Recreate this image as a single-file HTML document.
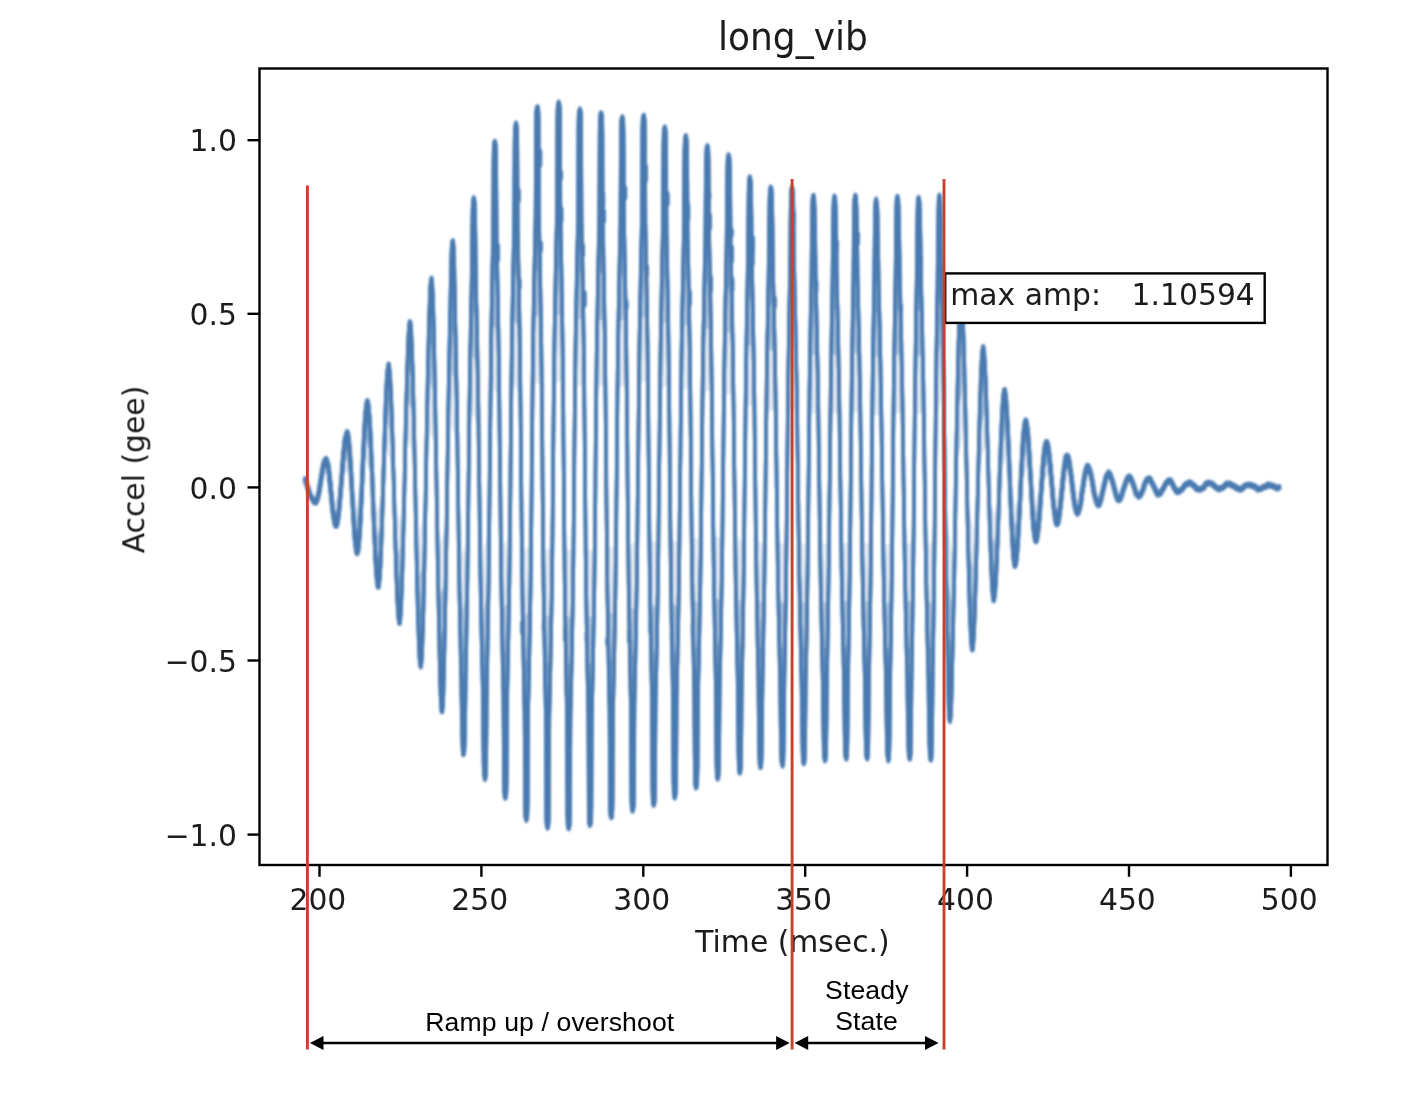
<!DOCTYPE html>
<html><head><meta charset="utf-8"><title>long_vib</title>
<style>
html,body{margin:0;padding:0;background:#fff;}
svg{display:block;}
text{font-family:"DejaVu Sans","Liberation Sans",sans-serif;fill:#1a1a1a;}
.h{font-family:"Liberation Sans","DejaVu Sans",sans-serif;fill:#000;}
</style></head><body>
<svg width="1410" height="1100" viewBox="0 0 1410 1100">
<rect width="1410" height="1100" fill="#fff"/>
<defs><filter id="bw" x="0" y="0" width="1410" height="1100" filterUnits="userSpaceOnUse"><feOffset in="SourceGraphic" dy="-0.7" result="a"/><feOffset in="SourceGraphic" dy="0.7" result="b"/><feMerge result="m"><feMergeNode in="a"/><feMergeNode in="b"/><feMergeNode in="SourceGraphic"/></feMerge><feGaussianBlur in="m" stdDeviation="0.8"/></filter><filter id="bl" x="0" y="0" width="1410" height="1100" filterUnits="userSpaceOnUse"><feGaussianBlur stdDeviation="0.8"/></filter><filter id="bt" x="0" y="0" width="1410" height="1100" filterUnits="userSpaceOnUse"><feGaussianBlur stdDeviation="0.55"/></filter></defs>
<g filter="url(#bw)" fill="none" stroke="#4a7ab0" stroke-linejoin="round" stroke-linecap="round">
<path d="M388.6 365.1 L388.7 365.1 L388.9 364.7 L389.1 366.5 L389.1 367.2 L389.5 369.3 L389.5 369.5 L389.9 374.2 L390.0 374.9 L390.4 382.4 L390.9 391.7 L391.3 402.9 L391.8 415.6 L392.2 429.6 L392.7 444.7 L393.1 460.7 L393.6 477.2 L394.1 494.0 L394.5 510.9 L395.0 527.4 L395.4 543.4 L395.9 558.5 L396.3 572.5 L396.8 585.2 L397.2 596.4 L397.7 605.7 L398.1 613.2 L398.2 613.9 L398.6 618.6 L398.6 619.6 L399.0 621.1 L399.0 622.2 L399.2 622.8 L399.4 623.1 L399.5 623.0 L399.6 622.8 L399.8 623.1 L399.9 622.8 L400.0 621.1 L400.3 618.9 L400.3 618.3 L400.7 613.9 L400.8 612.4 L401.1 607.0 L401.4 598.2 L401.8 587.8 L402.2 575.8 L402.6 562.4 L403.0 547.7 L403.4 532.1 L403.8 515.6 L404.2 498.6 L404.6 481.2 L404.9 463.7 L405.3 446.3 L405.7 429.3 L406.1 412.8 L406.5 397.2 L406.9 382.5 L407.3 369.1 L407.7 357.1 L408.1 346.7 L408.4 337.9 L408.7 332.5 L408.8 331.0 L409.2 326.6 L409.2 326.0 L409.5 324.0 L409.6 322.1 L409.7 322.7 L409.9 322.2 L410.0 321.9 L410.1 322.9 L410.3 323.0 L410.4 322.5 L410.5 323.8 L410.7 325.7 L410.9 327.3 L411.1 330.3 L411.3 334.0 L411.4 336.8 L411.8 345.0 L412.1 354.8 L412.5 366.2 L412.9 378.9 L413.2 393.0 L413.6 408.1 L413.9 424.2 L414.3 441.0 L414.6 458.5 L415.0 476.3 L415.4 494.3 L415.7 512.3 L416.1 530.1 L416.4 547.6 L416.8 564.4 L417.1 580.5 L417.5 595.6 L417.8 609.7 L418.2 622.4 L418.6 633.8 L418.9 643.6 L419.3 651.8 L419.4 654.6 L419.6 658.3 L419.8 661.3 L420.0 662.9 L420.2 664.9 L420.3 664.9 L420.4 666.1 L420.6 666.0 L420.7 666.7 L420.8 665.9 L421.0 665.3 L421.0 666.3 L421.2 664.3 L421.3 663.2 L421.6 660.6 L421.7 658.8 L422.0 653.1 L422.0 652.8 L422.3 645.2 L422.6 635.9 L423.0 625.2 L423.3 613.1 L423.6 599.8 L423.9 585.3 L424.3 569.8 L424.6 553.4 L424.9 536.3 L425.2 518.6 L425.6 500.4 L425.9 482.1 L426.2 463.6 L426.5 445.3 L426.9 427.2 L427.2 409.5 L427.5 392.7 L427.8 376.7 L428.2 361.4 L428.5 347.2 L428.8 333.8 L429.1 321.3 L429.5 310.3 L429.8 300.7 L430.1 292.8 L430.1 292.6 L430.4 286.7 L430.5 284.9 L430.8 282.3 L430.9 280.6 L431.1 279.4 L431.1 279.4 L431.3 279.8 L431.4 279.0 L431.5 278.4 L431.7 279.6 L431.7 279.9 L431.9 282.2 L432.0 282.1 L432.2 285.6 L432.3 286.2 L432.6 291.9 L432.7 294.1 L432.9 299.3 L433.2 308.3 L433.5 318.8 L433.8 330.7 L434.0 343.9 L434.3 357.6 L434.6 372.3 L434.9 388.0 L435.2 404.4 L435.5 421.4 L435.8 439.3 L436.1 457.7 L436.4 476.4 L436.7 495.2 L437.0 514.1 L437.3 532.8 L437.6 550.9 L437.9 568.6 L438.2 584.4 L438.5 599.5 L438.8 614.0 L439.1 627.9 L439.4 640.7 L439.6 654.4 L439.9 668.2 L440.2 680.4 L440.5 690.7 L440.7 696.6 L440.8 699.1 L441.1 705.1 L441.2 705.6 L441.4 709.1 L441.5 710.1 L441.7 711.5 L441.7 710.5 L441.9 711.2 L442.0 711.5 L442.1 711.1 L442.3 711.6 L442.3 711.7 L442.5 708.7 L442.5 709.2 L442.8 705.7 L442.9 705.1 L443.1 700.3 L443.3 695.3 L443.4 692.7 L443.6 683.1 L443.9 671.8 L444.2 658.9 L444.5 644.4 L444.7 631.4 L445.0 618.4 L445.3 604.3 L445.6 589.7 L445.8 574.5 L446.1 559.0 L446.4 541.4 L446.7 523.4 L446.9 504.7 L447.2 485.8 L447.5 466.9 L447.8 448.0 L448.0 429.3 L448.3 411.6 L448.6 394.2 L448.9 379.9 L449.1 365.9 L449.4 352.1 L449.7 338.8 L450.0 326.6 L450.2 314.9 L450.5 299.6 L450.8 284.4 L451.1 271.1 L451.3 260.0 L451.4 257.0 L451.6 251.6 L451.8 246.7 L451.9 246.1 L452.2 243.1 L452.2 242.5 L452.4 241.3 L452.4 241.3 L452.6 241.3 L452.7 241.2 L452.8 241.5 L453.0 241.4 L453.0 240.9 L453.2 242.9 L453.2 243.2 L453.5 245.5 L453.6 247.2 L453.7 250.7 L454.0 258.1 L454.0 258.4 L454.3 268.4 L454.5 280.8 L454.8 295.2 L455.0 311.4 L455.3 325.2 L455.6 337.1 L455.8 349.8 L456.1 363.3 L456.3 377.2 L456.6 391.4 L456.9 405.8 L457.1 423.0 L457.4 440.9 L457.6 459.5 L457.9 478.6 L458.1 497.7 L458.4 516.9 L458.7 536.0 L458.9 554.5 L459.2 572.1 L459.4 589.0 L459.7 602.3 L460.0 615.5 L460.2 628.5 L460.5 641.2 L460.7 653.5 L461.0 664.5 L461.3 675.3 L461.5 693.2 L461.8 710.8 L462.0 725.8 L462.3 737.7 L462.3 738.1 L462.6 745.9 L462.7 749.4 L462.8 751.1 L463.1 752.3 L463.1 752.8 L463.3 754.5 L463.3 754.1 L463.5 754.2 L463.6 754.3 L463.7 754.3 L463.8 754.1 L463.9 752.8 L464.0 753.5 L464.1 752.9 L464.3 751.3 L464.4 749.0 L464.5 746.9 L464.7 740.4 L464.8 736.3 L464.9 729.2 L465.2 715.1 L465.4 698.6 L465.6 679.9 L465.8 664.9 L466.1 653.9 L466.3 642.6 L466.5 630.0 L466.7 617.1 L467.0 604.0 L467.2 590.7 L467.4 577.2 L467.6 560.7 L467.9 543.0 L468.1 524.7 L468.3 505.5 L468.5 486.1 L468.8 466.8 L469.0 447.5 L469.2 428.2 L469.4 410.0 L469.7 392.5 L469.9 376.2 L470.1 363.6 L470.3 351.0 L470.6 338.5 L470.8 326.3 L471.0 314.2 L471.2 303.1 L471.5 292.7 L471.7 282.4 L471.9 260.7 L472.1 240.9 L472.4 224.3 L472.5 216.0 L472.6 211.7 L472.8 205.0 L472.9 202.8 L473.0 201.3 L473.2 201.0 L473.3 200.5 L473.4 199.0 L473.5 199.0 L473.6 198.1 L473.7 198.6 L473.8 199.0 L473.9 198.3 L474.0 198.5 L474.2 199.4 L474.3 199.8 L474.4 201.0 L474.6 203.0 L474.7 204.3 L474.9 210.6 L475.1 216.7 L475.1 221.5 L475.4 237.2 L475.6 256.1 L475.9 277.5 L476.1 292.2 L476.3 302.6 L476.6 313.1 L476.8 324.9 L477.1 337.1 L477.3 349.4 L477.5 361.9 L477.8 374.5 L478.0 387.2 L478.3 404.6 L478.5 422.1 L478.7 440.5 L479.0 459.7 L479.2 479.0 L479.5 498.4 L479.7 517.7 L480.0 536.9 L480.2 555.2 L480.4 572.4 L480.7 589.6 L480.9 601.6 L481.2 613.4 L481.4 625.1 L481.6 636.8 L481.9 648.2 L482.1 659.6 L482.4 669.9 L482.6 679.6 L482.8 689.3 L483.1 711.7 L483.3 735.9 L483.6 755.9 L483.6 761.9 L483.8 768.0 L484.0 774.6 L484.1 774.7 L484.3 775.5 L484.4 776.6 L484.5 776.9 L484.7 777.9 L484.8 777.4 L484.9 779.3 L485.0 778.8 L485.1 778.8 L485.2 777.6 L485.2 777.7 L485.4 777.4 L485.5 776.8 L485.6 775.8 L485.8 775.9 L485.8 775.1 L486.0 770.0 L486.2 762.1 L486.2 760.3 L486.3 744.4 L486.5 722.3 L486.7 696.6 L486.9 678.2 L487.1 668.4 L487.3 658.6 L487.5 648.2 L487.7 636.7 L487.9 625.1 L488.1 613.4 L488.3 601.5 L488.5 589.6 L488.7 577.7 L488.8 563.0 L489.0 545.6 L489.2 528.1 L489.4 509.2 L489.6 489.7 L489.8 470.1 L490.0 450.6 L490.2 431.1 L490.4 411.6 L490.6 392.6 L490.8 375.4 L491.0 358.3 L491.1 343.8 L491.3 332.5 L491.5 321.3 L491.7 310.1 L491.9 298.9 L492.1 287.9 L492.3 277.0 L492.5 266.5 L492.7 257.2 L492.9 247.9 L493.1 238.7 L493.3 208.8 L493.5 179.3 L493.6 158.3 L493.6 157.0 L493.8 149.1 L494.0 145.2 L494.0 146.0 L494.2 143.9 L494.3 143.4 L494.4 142.3 L494.6 141.9 L494.6 142.1 L494.7 141.7 L494.8 141.9 L494.9 142.7 L495.0 141.8 L495.1 141.7 L495.2 143.8 L495.3 143.6 L495.4 143.3 L495.6 145.2 L495.6 145.3 L495.8 148.6 L496.0 156.5 L496.1 158.8 L496.2 176.7 L496.4 205.8 L496.6 239.1 L496.8 249.3 L497.0 258.6 L497.2 268.0 L497.4 278.2 L497.6 289.2 L497.8 300.4 L498.0 311.6 L498.2 322.9 L498.4 334.2 L498.6 345.6 L498.8 358.0 L499.0 375.3 L499.2 392.6 L499.4 410.8 L499.6 430.5 L499.8 450.2 L500.1 469.9 L500.3 489.6 L500.5 509.3 L500.7 529.0 L500.9 547.1 L501.1 564.3 L501.3 581.5 L501.5 593.7 L501.7 604.8 L501.9 615.8 L502.1 626.9 L502.3 637.8 L502.5 648.6 L502.7 659.5 L502.9 669.7 L503.1 678.8 L503.3 687.9 L503.5 697.0 L503.7 727.2 L503.9 761.5 L504.0 781.9 L504.1 784.0 L504.3 792.1 L504.5 794.6 L504.5 794.0 L504.7 796.0 L504.8 797.2 L504.9 797.5 L505.0 797.6 L505.1 797.0 L505.2 797.4 L505.3 797.9 L505.4 797.0 L505.5 797.9 L505.6 797.3 L505.7 797.3 L505.8 796.0 L505.9 795.5 L506.1 795.5 L506.2 795.4 L506.3 793.4 L506.5 785.5 L506.6 781.5 L506.7 768.5 L506.9 736.3 L507.1 699.1 L507.3 688.4 L507.5 679.4 L507.7 670.4 L507.9 661.0 L508.1 650.3 L508.3 639.6 L508.5 628.9 L508.7 618.0 L508.9 607.1 L509.1 596.2 L509.3 585.2 L509.5 571.7 L509.7 554.7 L509.9 537.6 L510.1 519.5 L510.3 500.0 L510.5 480.5 L510.6 461.0 L510.8 441.4 L511.0 421.9 L511.2 402.5 L511.4 384.3 L511.6 367.4 L511.8 350.5 L512.0 337.1 L512.2 326.5 L512.4 315.8 L512.6 305.2 L512.8 294.6 L513.0 284.1 L513.2 273.7 L513.4 263.3 L513.6 253.8 L513.8 245.1 L514.0 236.3 L514.2 227.6 L514.4 193.7 L514.6 154.0 L514.7 139.7 L514.8 135.5 L515.0 127.9 L515.1 127.8 L515.2 127.4 L515.4 126.4 L515.5 125.9 L515.6 124.5 L515.7 124.7 L515.8 124.2 L515.9 123.4 L516.0 124.0 L516.1 123.4 L516.2 124.1 L516.3 124.3 L516.4 125.4 L516.5 126.4 L516.6 125.7 L516.7 127.7 L516.8 128.2 L516.9 128.0 L517.1 134.9 L517.2 140.2 L517.3 150.4 L517.5 189.6 L517.7 229.5 L517.9 238.3 L518.1 247.2 L518.2 256.0 L518.4 265.3 L518.6 275.8 L518.8 286.4 L519.0 297.0 L519.2 307.7 L519.4 318.5 L519.6 329.2 L519.7 340.0 L519.9 351.2 L520.1 368.3 L520.3 385.5 L520.5 402.7 L520.7 422.4 L520.9 442.2 L521.1 462.0 L521.2 481.7 L521.4 501.5 L521.6 521.3 L521.8 541.0 L522.0 558.1 L522.2 575.2 L522.4 592.2 L522.6 603.2 L522.7 613.7 L522.9 624.2 L523.1 634.6 L523.3 645.1 L523.5 655.5 L523.7 665.8 L523.9 676.1 L524.1 685.4 L524.2 694.1 L524.4 702.7 L524.6 711.3 L524.8 743.6 L525.0 793.8 L525.1 804.3 L525.2 809.8 L525.4 815.9 L525.5 817.4 L525.6 816.7 L525.7 817.5 L525.8 817.8 L525.9 818.1 L526.0 818.5 L526.1 819.4 L526.2 820.1 L526.3 819.7 L526.4 820.0 L526.5 819.2 L526.6 819.3 L526.7 819.2 L526.9 817.5 L526.9 818.3 L527.1 817.7 L527.2 817.0 L527.3 815.9 L527.5 810.6 L527.6 803.9 L527.7 799.0 L527.9 749.4 L528.1 710.1 L528.3 701.4 L528.5 692.7 L528.7 684.1 L528.9 675.0 L529.1 664.7 L529.3 654.3 L529.5 643.9 L529.7 633.4 L529.9 622.8 L530.1 612.3 L530.3 601.8 L530.5 591.2 L530.7 576.0 L530.9 558.9 L531.1 541.8 L531.3 523.0 L531.5 503.1 L531.7 483.2 L531.8 463.4 L532.0 443.5 L532.2 423.6 L532.4 403.7 L532.6 385.0 L532.8 367.9 L533.0 350.8 L533.2 335.7 L533.4 325.3 L533.6 314.9 L533.8 304.6 L534.0 294.2 L534.2 283.9 L534.4 273.6 L534.6 263.4 L534.8 253.2 L535.0 244.1 L535.2 235.5 L535.4 227.0 L535.6 218.5 L535.8 185.6 L536.0 125.7 L536.1 122.3 L536.2 115.4 L536.4 110.7 L536.5 110.6 L536.6 109.6 L536.8 108.1 L536.8 109.0 L537.0 107.7 L537.1 108.3 L537.2 108.4 L537.3 107.1 L537.4 107.0 L537.5 107.1 L537.6 108.3 L537.7 108.1 L537.8 107.4 L537.9 107.8 L537.9 108.0 L538.1 110.4 L538.2 110.7 L538.3 110.6 L538.5 114.4 L538.6 122.4 L538.6 124.0 L538.8 177.8 L539.0 218.3 L539.2 226.8 L539.3 235.2 L539.5 243.7 L539.7 252.4 L539.9 262.5 L540.1 272.7 L540.2 282.8 L540.4 293.1 L540.6 303.4 L540.8 313.7 L540.9 324.0 L541.1 334.3 L541.3 346.8 L541.5 363.7 L541.7 380.7 L541.8 398.0 L542.0 417.8 L542.2 437.5 L542.4 457.3 L542.5 477.0 L542.7 496.8 L542.9 516.5 L543.1 536.3 L543.2 553.6 L543.4 570.5 L543.6 587.4 L543.8 600.0 L544.0 610.2 L544.1 620.5 L544.3 630.7 L544.5 640.9 L544.7 651.1 L544.8 661.3 L545.0 671.4 L545.2 681.5 L545.4 690.2 L545.6 698.6 L545.7 707.0 L545.9 715.5 L546.1 754.0 L546.3 810.5 L546.3 812.0 L546.4 820.1 L546.6 823.7 L546.7 823.5 L546.8 825.3 L547.0 826.6 L547.0 826.1 L547.1 826.0 L547.2 826.7 L547.3 826.1 L547.4 826.1 L547.5 827.3 L547.6 827.9 L547.7 827.1 L547.8 826.6 L547.9 827.1 L548.1 825.7 L548.1 826.4 L548.3 825.3 L548.4 823.6 L548.5 823.7 L548.7 820.1 L548.9 811.9 L548.9 810.4 L549.1 753.6 L549.3 714.8 L549.5 706.3 L549.7 697.8 L549.9 689.4 L550.1 680.6 L550.3 670.4 L550.5 660.2 L550.7 650.1 L550.9 639.8 L551.1 629.5 L551.3 619.2 L551.5 608.9 L551.7 598.6 L551.9 586.0 L552.1 569.0 L552.3 551.9 L552.5 534.5 L552.7 514.6 L552.9 494.7 L553.1 474.9 L553.2 455.0 L553.4 435.2 L553.6 415.3 L553.8 395.4 L554.0 378.0 L554.2 360.9 L554.4 343.9 L554.6 331.3 L554.8 321.0 L555.0 310.7 L555.2 300.4 L555.4 290.1 L555.6 279.8 L555.8 269.7 L556.0 259.5 L556.2 249.3 L556.4 240.5 L556.6 232.1 L556.8 223.6 L557.0 215.1 L557.2 176.3 L557.4 119.5 L557.4 118.0 L557.6 109.8 L557.8 106.2 L557.9 105.3 L558.0 104.8 L558.2 103.7 L558.2 104.2 L558.4 103.2 L558.5 103.2 L558.6 102.4 L558.7 103.6 L558.8 102.6 L558.9 102.6 L559.0 103.0 L559.0 103.5 L559.1 104.3 L559.3 103.9 L559.3 105.0 L559.5 105.2 L559.6 105.9 L559.7 106.2 L559.8 109.9 L560.0 118.0 L560.0 119.5 L560.2 176.5 L560.3 215.3 L560.5 223.8 L560.7 232.3 L560.9 240.8 L561.0 249.5 L561.2 259.7 L561.4 269.9 L561.6 280.1 L561.7 290.4 L561.9 300.7 L562.1 311.0 L562.2 321.3 L562.4 331.7 L562.6 344.3 L562.8 361.3 L562.9 378.4 L563.1 395.9 L563.3 415.8 L563.4 435.7 L563.6 455.6 L563.8 475.4 L564.0 495.3 L564.1 515.2 L564.3 535.1 L564.5 552.6 L564.6 569.7 L564.8 586.7 L565.0 599.3 L565.2 609.7 L565.3 620.0 L565.5 630.3 L565.7 640.6 L565.8 650.9 L566.0 661.1 L566.2 671.3 L566.4 681.5 L566.5 690.2 L566.7 698.7 L566.9 707.2 L567.1 715.7 L567.2 754.5 L567.4 811.5 L567.4 813.0 L567.6 821.1 L567.7 824.8 L567.8 825.2 L567.9 824.9 L568.1 826.7 L568.1 826.4 L568.3 826.5 L568.4 828.2 L568.4 827.3 L568.5 828.1 L568.6 828.4 L568.7 828.5 L568.8 828.0 L568.9 827.4 L569.0 827.4 L569.2 827.1 L569.2 827.3 L569.4 825.1 L569.5 825.3 L569.6 824.8 L569.8 821.2 L570.0 813.2 L570.0 811.6 L570.2 755.2 L570.4 716.7 L570.6 708.3 L570.8 699.9 L571.0 691.5 L571.2 682.8 L571.4 672.7 L571.6 662.6 L571.8 652.5 L572.0 642.3 L572.2 632.1 L572.4 621.9 L572.6 611.6 L572.8 601.4 L573.0 588.9 L573.2 572.0 L573.4 555.1 L573.6 537.8 L573.8 518.1 L574.0 498.4 L574.2 478.7 L574.3 458.9 L574.5 439.2 L574.7 419.5 L574.9 399.8 L575.1 382.5 L575.3 365.6 L575.5 348.6 L575.7 336.1 L575.9 325.9 L576.1 315.6 L576.3 305.3 L576.5 295.1 L576.7 284.9 L576.9 274.7 L577.1 264.6 L577.3 254.5 L577.5 245.8 L577.7 237.4 L577.9 228.9 L578.1 220.5 L578.3 180.6 L578.5 126.1 L578.5 124.6 L578.7 116.6 L578.9 112.8 L579.0 111.9 L579.1 111.4 L579.3 111.3 L579.3 110.7 L579.5 110.3 L579.6 110.4 L579.7 110.4 L579.8 109.4 L579.9 109.2 L580.0 109.7 L580.1 109.7 L580.2 109.9 L580.3 110.6 L580.4 110.6 L580.4 110.9 L580.6 111.8 L580.7 113.2 L580.8 112.8 L581.0 116.5 L581.1 124.5 L581.1 126.0 L581.3 180.3 L581.5 220.0 L581.7 228.4 L581.8 236.8 L582.0 245.2 L582.2 253.8 L582.4 263.9 L582.6 274.0 L582.7 284.1 L582.9 294.2 L583.1 304.4 L583.3 314.7 L583.4 324.9 L583.6 335.1 L583.8 347.5 L584.0 364.4 L584.2 381.2 L584.3 398.5 L584.5 418.1 L584.7 437.7 L584.9 457.3 L585.0 477.0 L585.2 496.6 L585.4 516.2 L585.6 535.8 L585.7 553.1 L585.9 570.0 L586.1 586.8 L586.3 599.3 L586.5 609.5 L586.6 619.8 L586.8 630.1 L587.0 640.3 L587.2 650.5 L587.3 660.7 L587.5 670.8 L587.7 680.9 L587.9 689.5 L588.1 698.0 L588.2 706.4 L588.4 714.9 L588.6 756.4 L588.8 808.1 L588.8 809.6 L588.9 817.5 L589.1 821.5 L589.2 822.3 L589.3 823.2 L589.5 824.3 L589.5 823.2 L589.6 824.2 L589.7 825.2 L589.8 825.2 L589.9 824.2 L590.0 825.1 L590.1 824.1 L590.2 824.5 L590.3 823.6 L590.4 823.6 L590.6 822.9 L590.6 823.8 L590.8 822.9 L590.9 822.6 L591.0 821.4 L591.2 816.6 L591.3 809.7 L591.4 805.9 L591.6 748.5 L591.8 714.1 L592.0 705.6 L592.2 697.0 L592.4 688.5 L592.6 679.4 L592.8 669.1 L593.0 658.9 L593.2 648.6 L593.4 638.3 L593.6 627.9 L593.8 617.5 L594.0 607.1 L594.2 596.7 L594.4 581.5 L594.6 564.5 L594.8 547.4 L595.0 528.7 L595.2 508.8 L595.4 489.0 L595.5 469.1 L595.7 449.2 L595.9 429.4 L596.1 409.5 L596.3 390.8 L596.5 373.7 L596.7 356.6 L596.9 341.4 L597.1 331.0 L597.3 320.5 L597.5 310.0 L597.7 299.5 L597.9 289.1 L598.1 278.8 L598.3 268.4 L598.5 258.1 L598.7 249.1 L598.9 240.5 L599.1 231.8 L599.3 223.2 L599.5 185.7 L599.7 133.3 L599.8 128.7 L599.9 122.0 L600.1 116.9 L600.2 115.7 L600.3 116.2 L600.5 115.1 L600.5 113.9 L600.7 114.8 L600.8 114.7 L600.9 113.1 L601.0 114.2 L601.1 113.1 L601.2 113.2 L601.3 113.6 L601.4 114.7 L601.5 114.7 L601.6 113.9 L601.6 114.6 L601.8 115.8 L601.9 116.0 L602.0 116.8 L602.2 121.9 L602.3 128.6 L602.4 133.0 L602.5 185.0 L602.7 222.1 L602.9 230.6 L603.1 239.1 L603.3 247.6 L603.4 256.6 L603.6 266.8 L603.8 277.0 L604.0 287.2 L604.2 297.5 L604.3 307.9 L604.5 318.3 L604.7 328.6 L604.9 339.0 L605.1 354.0 L605.2 370.9 L605.4 387.8 L605.6 406.3 L605.8 426.0 L606.0 445.6 L606.2 465.3 L606.3 485.0 L606.5 504.6 L606.7 524.3 L606.9 542.8 L607.1 559.8 L607.2 576.7 L607.4 591.7 L607.6 602.2 L607.8 612.6 L608.0 623.1 L608.1 633.5 L608.3 643.9 L608.5 654.2 L608.7 664.5 L608.9 674.8 L609.0 683.7 L609.2 692.3 L609.4 700.9 L609.6 709.4 L609.8 749.2 L609.9 796.7 L610.0 801.8 L610.1 808.4 L610.3 813.7 L610.4 813.7 L610.5 814.5 L610.7 816.2 L610.7 815.2 L610.8 816.6 L610.9 816.7 L611.0 816.1 L611.1 816.9 L611.2 817.5 L611.3 817.4 L611.4 817.0 L611.5 816.0 L611.6 817.4 L611.8 816.6 L611.8 816.7 L612.0 814.1 L612.1 813.9 L612.2 813.8 L612.4 808.4 L612.5 801.9 L612.6 796.9 L612.8 749.6 L613.0 710.1 L613.2 701.6 L613.4 693.1 L613.6 684.5 L613.8 675.6 L614.0 665.4 L614.2 655.2 L614.4 645.0 L614.6 634.6 L614.8 624.3 L615.0 613.9 L615.2 603.5 L615.4 593.1 L615.6 578.2 L615.8 561.4 L616.0 544.5 L616.2 526.1 L616.4 506.6 L616.6 487.0 L616.8 467.5 L616.9 448.0 L617.1 428.4 L617.3 408.9 L617.5 390.5 L617.7 373.6 L617.9 356.7 L618.1 341.8 L618.3 331.3 L618.5 320.9 L618.7 310.4 L618.9 299.9 L619.1 289.5 L619.3 279.2 L619.5 268.9 L619.7 258.6 L619.9 249.8 L620.1 241.2 L620.3 232.6 L620.5 224.0 L620.7 182.5 L620.9 138.7 L621.0 133.3 L621.1 126.9 L621.3 121.3 L621.4 119.9 L621.5 120.7 L621.7 118.8 L621.7 118.3 L621.9 118.4 L622.0 119.0 L622.1 118.6 L622.2 117.3 L622.3 117.5 L622.4 117.1 L622.5 118.8 L622.6 118.3 L622.7 118.9 L622.8 118.2 L622.9 118.4 L623.0 120.6 L623.1 120.6 L623.2 121.3 L623.4 127.8 L623.5 133.2 L623.6 143.5 L623.8 188.6 L624.0 224.3 L624.2 233.0 L624.4 241.7 L624.5 250.4 L624.7 259.6 L624.9 270.0 L625.1 280.4 L625.3 290.8 L625.5 301.3 L625.7 311.8 L625.9 322.4 L626.0 333.0 L626.2 344.0 L626.4 361.0 L626.6 378.0 L626.8 395.1 L627.0 414.8 L627.2 434.5 L627.4 454.2 L627.5 473.8 L627.7 493.5 L627.9 513.2 L628.1 532.9 L628.3 550.0 L628.5 567.0 L628.7 584.0 L628.9 595.1 L629.0 605.7 L629.2 616.3 L629.4 626.9 L629.6 637.4 L629.8 647.9 L630.0 658.3 L630.2 668.7 L630.4 677.9 L630.5 686.6 L630.7 695.4 L630.9 704.1 L631.1 740.8 L631.3 784.4 L631.4 794.7 L631.5 800.1 L631.7 806.6 L631.8 806.5 L631.9 808.5 L632.0 809.0 L632.1 809.6 L632.2 808.7 L632.3 810.4 L632.4 809.2 L632.5 810.9 L632.6 810.5 L632.7 810.1 L632.8 809.7 L632.9 809.9 L633.0 810.2 L633.2 808.6 L633.2 808.1 L633.4 807.7 L633.5 806.8 L633.6 806.6 L633.8 800.1 L633.9 794.7 L634.0 784.3 L634.2 740.6 L634.4 703.8 L634.6 695.1 L634.8 686.3 L635.0 677.6 L635.2 668.3 L635.4 657.9 L635.6 647.4 L635.8 637.0 L636.0 626.4 L636.2 615.8 L636.4 605.2 L636.6 594.6 L636.8 583.5 L637.0 566.4 L637.2 549.3 L637.4 532.2 L637.6 512.5 L637.8 492.7 L638.0 473.0 L638.3 453.2 L638.5 433.5 L638.7 413.7 L638.9 394.0 L639.1 376.9 L639.3 359.8 L639.5 342.7 L639.7 331.6 L639.9 320.9 L640.1 310.3 L640.3 299.7 L640.5 289.0 L640.7 278.6 L640.9 268.1 L641.1 257.7 L641.3 248.4 L641.5 239.6 L641.7 230.9 L641.9 222.1 L642.1 184.6 L642.3 141.9 L642.4 131.6 L642.5 126.2 L642.7 119.6 L642.8 118.2 L642.9 117.9 L643.1 116.7 L643.1 116.7 L643.3 116.4 L643.4 116.1 L643.5 116.7 L643.6 115.6 L643.7 115.7 L643.8 116.0 L643.9 115.6 L644.0 116.1 L644.1 115.9 L644.2 116.7 L644.2 116.6 L644.4 118.9 L644.5 119.0 L644.6 119.6 L644.8 126.1 L644.9 131.5 L645.0 141.7 L645.2 184.0 L645.3 221.3 L645.5 229.9 L645.7 238.6 L645.9 247.3 L646.1 256.5 L646.2 266.9 L646.4 277.2 L646.6 287.6 L646.8 298.2 L647.0 308.7 L647.2 319.3 L647.3 329.8 L647.5 340.8 L647.7 357.8 L647.9 374.7 L648.1 391.7 L648.2 411.3 L648.4 430.9 L648.6 450.5 L648.8 470.0 L649.0 489.6 L649.2 509.2 L649.3 528.8 L649.5 545.8 L649.7 562.8 L649.9 579.8 L650.1 590.9 L650.2 601.6 L650.4 612.3 L650.6 623.0 L650.8 633.6 L651.0 644.1 L651.2 654.6 L651.3 665.1 L651.5 674.2 L651.7 683.0 L651.9 691.8 L652.1 700.6 L652.2 740.5 L652.4 778.6 L652.5 788.7 L652.6 793.9 L652.8 800.9 L652.9 801.0 L653.0 801.9 L653.2 803.8 L653.2 802.6 L653.3 804.3 L653.5 804.0 L653.5 804.3 L653.6 805.1 L653.7 804.8 L653.8 804.3 L653.9 804.3 L654.0 804.4 L654.1 804.6 L654.3 803.0 L654.3 803.6 L654.5 802.3 L654.6 801.8 L654.7 800.8 L654.9 793.2 L655.0 789.0 L655.1 774.7 L655.3 735.6 L655.6 701.0 L655.8 692.2 L656.0 683.4 L656.2 674.6 L656.4 665.1 L656.6 654.6 L656.8 644.1 L657.0 633.5 L657.2 622.8 L657.4 612.1 L657.6 601.4 L657.8 590.7 L658.0 577.2 L658.2 560.2 L658.4 543.2 L658.6 525.0 L658.8 505.4 L659.0 485.9 L659.2 466.3 L659.5 446.6 L659.7 427.0 L659.9 407.5 L660.1 389.2 L660.3 372.2 L660.5 355.1 L660.7 341.6 L660.9 330.7 L661.1 319.9 L661.3 309.0 L661.5 298.2 L661.7 287.5 L661.9 276.9 L662.1 266.3 L662.3 256.8 L662.5 247.9 L662.7 239.0 L662.9 230.1 L663.2 192.7 L663.4 157.5 L663.5 143.9 L663.6 139.8 L663.8 131.8 L663.9 130.8 L664.0 130.4 L664.2 128.8 L664.2 128.6 L664.4 128.0 L664.5 128.8 L664.6 127.8 L664.7 127.4 L664.8 127.7 L664.9 127.2 L665.0 128.8 L665.0 129.1 L665.2 129.1 L665.3 128.8 L665.4 129.1 L665.5 130.3 L665.6 131.0 L665.7 132.4 L665.9 140.6 L666.0 143.7 L666.1 161.4 L666.3 197.8 L666.5 230.4 L666.7 239.4 L666.9 248.4 L667.0 257.4 L667.2 267.3 L667.4 278.0 L667.6 288.8 L667.8 299.6 L668.0 310.5 L668.2 321.4 L668.3 332.3 L668.5 343.3 L668.7 359.3 L668.9 376.5 L669.1 393.7 L669.3 413.2 L669.5 432.9 L669.7 452.7 L669.8 472.4 L670.0 492.2 L670.2 511.9 L670.4 531.4 L670.6 548.7 L670.8 565.9 L671.0 581.9 L671.2 593.0 L671.3 604.1 L671.5 615.1 L671.7 626.1 L671.9 637.1 L672.1 647.9 L672.3 658.7 L672.5 668.6 L672.6 677.7 L672.8 686.8 L673.0 695.9 L673.2 730.7 L673.4 764.3 L673.5 781.1 L673.6 784.2 L673.8 792.2 L673.9 794.1 L674.0 794.3 L674.1 794.8 L674.2 795.7 L674.3 795.9 L674.5 797.5 L674.5 797.7 L674.6 797.2 L674.7 797.4 L674.8 796.7 L674.9 797.7 L675.0 796.4 L675.1 796.1 L675.3 795.0 L675.3 795.3 L675.5 794.3 L675.6 794.1 L675.7 792.3 L676.0 784.4 L676.0 781.3 L676.2 764.7 L676.4 731.5 L676.6 697.2 L676.8 688.3 L677.0 679.3 L677.2 670.3 L677.4 660.5 L677.6 649.8 L677.8 639.1 L678.1 628.4 L678.3 617.5 L678.5 606.6 L678.7 595.7 L678.9 584.7 L679.1 568.9 L679.3 551.9 L679.5 534.8 L679.7 515.6 L679.9 496.2 L680.1 476.7 L680.4 457.1 L680.6 437.6 L680.8 418.2 L681.0 399.0 L681.2 381.8 L681.4 364.8 L681.6 348.9 L681.8 337.8 L682.0 326.8 L682.2 315.7 L682.4 304.7 L682.7 293.8 L682.9 283.0 L683.1 272.2 L683.3 262.5 L683.5 253.3 L683.7 244.2 L683.9 233.9 L684.1 198.9 L684.3 168.5 L684.5 152.8 L684.5 149.8 L684.8 142.0 L684.9 139.8 L685.0 139.5 L685.2 137.8 L685.2 138.0 L685.4 136.6 L685.5 136.7 L685.6 136.2 L685.7 136.5 L685.8 136.4 L685.9 135.8 L686.0 136.1 L686.1 136.7 L686.2 137.0 L686.3 138.1 L686.4 138.4 L686.6 140.0 L686.6 139.7 L686.8 142.6 L687.0 150.5 L687.0 152.6 L687.2 171.7 L687.4 203.0 L687.6 235.2 L687.8 244.3 L688.0 253.5 L688.2 262.6 L688.4 272.8 L688.6 283.6 L688.8 294.5 L689.0 305.5 L689.2 316.6 L689.4 327.7 L689.6 338.8 L689.8 351.0 L690.0 368.1 L690.2 385.3 L690.4 403.2 L690.6 422.8 L690.8 442.3 L691.0 461.9 L691.1 481.5 L691.3 501.0 L691.5 520.6 L691.7 538.6 L691.9 555.8 L692.1 573.0 L692.3 585.3 L692.5 596.6 L692.7 607.8 L692.9 619.0 L693.1 630.2 L693.3 641.2 L693.5 652.2 L693.7 662.3 L693.9 671.6 L694.1 680.9 L694.3 691.0 L694.5 724.1 L694.7 752.9 L694.9 770.6 L694.9 772.9 L695.1 780.7 L695.3 784.0 L695.3 784.5 L695.5 785.7 L695.6 786.5 L695.7 786.1 L695.8 786.4 L695.9 787.8 L696.0 786.5 L696.1 787.4 L696.2 787.6 L696.3 787.1 L696.4 785.9 L696.5 786.9 L696.7 786.5 L696.8 785.5 L697.0 784.6 L697.0 784.1 L697.2 780.1 L697.4 772.2 L697.5 770.8 L697.7 749.8 L697.9 720.1 L698.1 689.9 L698.3 680.6 L698.5 671.3 L698.8 661.9 L699.0 651.4 L699.2 640.4 L699.4 629.3 L699.6 618.0 L699.9 606.7 L700.1 595.4 L700.3 584.1 L700.5 569.5 L700.8 552.2 L701.0 534.9 L701.2 515.8 L701.4 496.2 L701.6 476.5 L701.9 456.8 L702.1 437.1 L702.3 417.5 L702.5 398.4 L702.7 381.0 L703.0 363.7 L703.2 349.1 L703.4 337.6 L703.6 326.1 L703.9 314.6 L704.1 303.3 L704.3 292.0 L704.5 280.9 L704.7 270.4 L705.0 260.9 L705.2 251.4 L705.4 241.7 L705.6 210.2 L705.8 182.6 L706.0 163.1 L706.1 161.4 L706.3 153.6 L706.5 149.3 L706.5 149.8 L706.7 147.4 L706.8 147.6 L707.0 147.0 L707.1 147.2 L707.2 147.0 L707.3 146.7 L707.4 145.9 L707.5 146.3 L707.6 147.1 L707.7 146.9 L707.8 147.4 L707.9 147.0 L708.0 147.2 L708.2 148.5 L708.2 149.3 L708.4 153.5 L708.6 161.2 L708.6 162.9 L708.8 182.1 L709.0 209.3 L709.2 240.4 L709.4 250.0 L709.6 259.3 L709.8 268.7 L710.0 279.0 L710.2 290.1 L710.4 301.1 L710.6 312.3 L710.8 323.6 L711.0 335.0 L711.2 346.3 L711.4 360.7 L711.6 377.8 L711.8 395.0 L712.0 413.8 L712.2 433.2 L712.4 452.6 L712.7 472.0 L712.9 491.4 L713.1 510.8 L713.3 529.6 L713.5 546.8 L713.7 564.0 L713.9 578.5 L714.1 590.0 L714.3 601.5 L714.5 612.9 L714.7 624.3 L714.9 635.5 L715.1 646.6 L715.3 656.9 L715.5 666.5 L715.7 675.9 L715.9 688.8 L716.1 717.9 L716.3 743.2 L716.5 761.2 L716.5 763.1 L716.7 770.7 L716.9 775.2 L716.9 775.1 L717.1 775.8 L717.2 777.7 L717.3 777.7 L717.4 778.3 L717.5 778.4 L717.6 778.8 L717.7 778.7 L717.8 778.5 L717.9 777.3 L718.0 778.6 L718.1 778.0 L718.2 777.1 L718.4 776.6 L718.6 775.3 L718.8 770.1 L719.0 761.5 L719.2 740.5 L719.4 714.4 L719.7 685.0 L719.9 675.6 L720.1 666.1 L720.3 656.5 L720.5 645.7 L720.8 634.5 L721.0 623.2 L721.2 611.8 L721.4 600.3 L721.6 588.7 L721.8 577.1 L722.1 560.4 L722.3 543.2 L722.5 525.4 L722.7 506.0 L722.9 486.5 L723.2 467.0 L723.4 447.5 L723.6 428.0 L723.8 408.6 L724.0 390.8 L724.2 373.5 L724.5 356.8 L724.7 345.0 L724.9 333.4 L725.1 321.7 L725.3 310.1 L725.5 298.7 L725.8 287.4 L726.0 276.7 L726.2 267.0 L726.4 257.4 L726.6 245.7 L726.9 217.4 L727.1 192.8 L727.3 172.9 L727.5 164.2 L727.7 158.8 L727.9 157.8 L728.1 156.2 L728.2 156.9 L728.3 155.5 L728.4 155.1 L728.5 155.1 L728.6 155.3 L728.7 155.9 L728.8 155.3 L728.9 156.4 L729.1 157.3 L729.2 156.9 L729.3 157.3 L729.5 158.7 L729.7 164.1 L730.0 172.7 L730.2 192.4 L730.4 216.9 L730.6 244.9 L730.9 256.4 L731.1 265.9 L731.3 275.5 L731.5 286.2 L731.8 297.4 L732.0 308.7 L732.2 320.2 L732.4 331.7 L732.7 343.3 L732.9 354.9 L733.1 371.4 L733.3 388.6 L733.6 406.2 L733.8 425.5 L734.0 444.8 L734.2 464.1 L734.5 483.4 L734.7 502.7 L734.9 522.0 L735.2 539.7 L735.4 556.9 L735.6 573.5 L735.8 585.4 L736.1 597.2 L736.3 609.0 L736.5 620.7 L736.7 632.2 L737.0 643.6 L737.2 654.2 L737.4 664.0 L737.6 673.8 L737.9 689.2 L738.1 714.7 L738.3 736.9 L738.5 754.9 L738.8 763.6 L739.0 769.3 L739.2 770.6 L739.3 771.5 L739.4 772.2 L739.6 772.4 L739.7 772.6 L739.8 771.9 L739.9 772.9 L740.0 772.1 L740.1 771.9 L740.1 772.7 L740.3 771.4 L740.4 771.4 L740.5 769.7 L740.7 768.7 L740.7 769.0 L740.9 762.5 L741.1 755.5 L741.1 751.6 L741.3 732.3 L741.5 708.9 L741.8 683.1 L742.0 673.4 L742.2 663.6 L742.4 653.7 L742.6 642.2 L742.8 630.7 L743.0 619.0 L743.2 607.2 L743.4 595.3 L743.6 583.4 L743.8 568.0 L744.0 550.7 L744.2 533.2 L744.4 513.9 L744.6 494.5 L744.8 475.1 L745.1 455.6 L745.3 436.2 L745.5 416.9 L745.7 399.3 L745.9 381.9 L746.1 366.4 L746.3 354.2 L746.5 342.1 L746.7 330.0 L746.9 318.1 L747.1 306.4 L747.3 294.9 L747.5 284.8 L747.7 274.8 L747.9 262.1 L748.1 237.7 L748.4 216.3 L748.6 198.7 L748.6 195.1 L748.8 188.0 L749.0 181.7 L749.0 180.8 L749.2 179.2 L749.3 179.2 L749.4 178.8 L749.6 178.2 L749.6 177.3 L749.7 177.4 L749.8 177.2 L749.9 177.3 L750.0 177.7 L750.1 177.2 L750.2 179.1 L750.3 178.3 L750.5 180.5 L750.7 180.8 L750.7 181.6 L750.9 187.9 L751.1 194.9 L751.1 198.5 L751.4 216.0 L751.6 237.1 L751.8 261.3 L752.0 273.8 L752.3 283.7 L752.5 293.7 L752.7 305.1 L752.9 316.7 L753.1 328.5 L753.4 340.4 L753.6 352.4 L753.8 364.5 L754.0 379.8 L754.3 397.0 L754.5 414.5 L754.7 433.6 L754.9 452.8 L755.1 472.0 L755.4 491.3 L755.6 510.5 L755.8 529.6 L756.0 547.1 L756.3 564.4 L756.5 579.7 L756.7 592.0 L756.9 604.2 L757.2 616.2 L757.4 628.1 L757.6 639.9 L757.8 651.3 L758.0 661.4 L758.3 671.4 L758.5 685.7 L758.7 708.7 L758.9 728.9 L759.2 745.5 L759.2 748.9 L759.4 755.9 L759.6 762.2 L759.6 763.0 L759.8 765.2 L760.0 764.3 L760.1 765.6 L760.2 766.8 L760.3 767.2 L760.4 766.6 L760.5 766.9 L760.6 766.3 L760.7 765.8 L760.8 767.1 L760.9 765.1 L761.0 765.4 L761.2 763.7 L761.3 763.1 L761.4 761.8 L761.6 755.4 L761.7 749.2 L761.8 744.0 L762.0 726.8 L762.2 706.1 L762.5 682.5 L762.7 671.0 L762.9 660.9 L763.1 650.7 L763.3 638.9 L763.5 627.1 L763.8 615.1 L764.0 602.9 L764.2 590.7 L764.4 578.3 L764.6 561.0 L764.8 543.7 L765.1 525.3 L765.3 506.1 L765.5 486.8 L765.7 467.5 L765.9 448.2 L766.1 429.0 L766.4 410.6 L766.6 393.2 L766.8 375.9 L767.0 363.5 L767.2 351.1 L767.4 338.8 L767.7 326.7 L767.9 314.8 L768.1 303.0 L768.3 292.7 L768.5 282.5 L768.7 269.7 L769.0 247.0 L769.2 227.0 L769.4 210.3 L769.5 205.2 L769.6 199.1 L769.8 192.7 L769.9 191.4 L770.0 190.0 L770.2 189.9 L770.3 188.0 L770.4 188.6 L770.5 187.9 L770.6 188.3 L770.7 187.4 L770.8 188.0 L771.0 187.4 L771.0 188.8 L771.2 188.6 L771.3 188.3 L771.5 189.1 L771.6 191.4 L771.7 192.7 L772.0 199.1 L772.1 205.2 L772.2 210.2 L772.5 226.9 L772.7 246.8 L773.0 269.5 L773.2 282.3 L773.5 292.4 L773.7 302.7 L774.0 314.5 L774.2 326.4 L774.5 338.5 L774.7 350.7 L775.0 363.0 L775.2 375.5 L775.5 392.7 L775.7 410.1 L776.0 428.4 L776.2 447.6 L776.5 466.8 L776.7 486.1 L777.0 505.3 L777.2 524.5 L777.5 542.8 L777.7 560.2 L778.0 577.4 L778.2 589.9 L778.5 602.2 L778.7 614.5 L779.0 626.6 L779.2 638.5 L779.5 650.3 L779.7 660.6 L780.0 670.8 L780.2 683.7 L780.5 706.3 L780.7 726.1 L781.0 742.7 L781.1 747.7 L781.2 753.8 L781.5 760.2 L781.6 761.5 L781.7 762.9 L781.9 763.7 L782.0 763.9 L782.2 764.2 L782.2 764.7 L782.4 765.0 L782.5 765.5 L782.6 765.9 L782.7 764.1 L782.7 765.3 L782.9 764.8 L783.0 763.1 L783.1 762.9 L783.3 761.5 L783.3 760.2 L783.5 753.8 L783.6 747.7 L783.7 742.7 L783.9 726.1 L784.1 706.3 L784.3 683.7 L784.5 670.8 L784.7 660.7 L784.9 650.4 L785.1 638.6 L785.3 626.7 L785.5 614.6 L785.7 602.4 L785.9 590.0 L786.1 577.6 L786.3 560.3 L786.5 543.0 L786.7 524.7 L786.9 505.5 L787.1 486.3 L787.3 467.0 L787.5 447.8 L787.7 428.6 L787.9 410.3 L788.1 393.0 L788.3 375.7 L788.5 363.2 L788.7 350.9 L788.9 338.6 L789.1 326.5 L789.3 314.5 L789.5 302.8 L789.7 292.5 L789.9 282.3 L790.1 269.1 L790.3 246.7 L790.5 227.0 L790.7 210.6 L790.8 205.6 L790.9 199.5 L791.1 193.2 L791.1 191.9 L791.3 190.4 L791.4 190.3 L791.5 189.5 L791.7 189.2 L791.7 188.0 L791.8 187.8 L791.9 187.8 L792.0 187.8 L792.2 189.2 L792.2 188.6 L792.4 188.8 L792.5 189.4 L792.7 190.0 L792.9 191.9 L792.9 193.1 L793.2 199.5 L793.3 205.6 L793.4 210.5 L793.7 226.9 L793.9 246.5 L794.2 268.8 L794.5 281.9 L794.7 292.1 L795.0 302.4 L795.2 314.0 L795.5 325.9 L795.7 338.0 L796.0 350.2 L796.2 362.6 L796.5 375.0 L796.8 392.2 L797.0 409.5 L797.3 427.7 L797.5 446.8 L797.8 466.0 L798.0 485.1 L798.3 504.3 L798.5 523.4 L798.8 541.6 L799.0 559.0 L799.3 576.2 L799.6 588.7 L799.8 601.1 L800.1 613.4 L800.3 625.6 L800.6 637.6 L800.8 649.3 L801.1 659.7 L801.3 669.9 L801.6 683.9 L801.9 705.6 L802.1 724.7 L802.4 740.6 L802.5 745.4 L802.6 751.5 L802.9 757.8 L802.9 759.0 L803.1 759.9 L803.3 760.8 L803.4 762.6 L803.6 762.3 L803.6 763.6 L803.8 762.7 L803.9 763.3 L804.0 762.7 L804.1 762.8 L804.1 762.1 L804.3 761.7 L804.4 762.4 L804.5 760.6 L804.7 759.1 L804.7 757.4 L804.9 750.9 L805.0 745.7 L805.1 739.0 L805.3 722.5 L805.5 702.9 L805.7 680.6 L805.9 669.0 L806.1 658.6 L806.4 648.0 L806.6 636.0 L806.8 623.9 L807.0 611.6 L807.2 599.1 L807.4 586.5 L807.6 572.1 L807.8 554.7 L808.0 537.2 L808.2 518.1 L808.4 498.8 L808.6 479.5 L808.8 460.2 L809.0 440.9 L809.2 421.8 L809.4 404.2 L809.6 386.8 L809.8 372.3 L810.0 359.7 L810.2 347.1 L810.4 334.7 L810.6 322.5 L810.8 310.4 L811.1 299.7 L811.3 289.3 L811.5 276.7 L811.7 255.0 L811.9 236.0 L812.1 219.9 L812.2 213.5 L812.3 208.3 L812.5 201.8 L812.5 200.1 L812.7 198.4 L812.8 198.1 L812.9 197.6 L813.1 196.6 L813.1 197.0 L813.2 196.7 L813.3 195.7 L813.4 196.0 L813.6 196.6 L813.6 195.5 L813.8 197.5 L813.9 197.4 L814.1 198.9 L814.2 200.1 L814.3 201.8 L814.6 208.2 L814.7 213.4 L814.8 219.8 L815.1 235.8 L815.4 254.7 L815.6 276.3 L815.9 288.8 L816.1 299.2 L816.4 309.8 L816.6 321.8 L816.9 334.0 L817.1 346.3 L817.4 358.8 L817.7 371.4 L817.9 385.9 L818.2 403.2 L818.4 420.7 L818.7 439.7 L818.9 458.9 L819.2 478.1 L819.5 497.3 L819.7 516.5 L820.0 535.5 L820.2 553.0 L820.5 570.4 L820.7 584.8 L821.0 597.4 L821.3 610.0 L821.5 622.4 L821.8 634.6 L822.0 646.6 L822.3 657.3 L822.5 667.7 L822.8 680.5 L823.0 701.9 L823.3 720.6 L823.6 736.4 L823.7 742.8 L823.8 747.9 L824.1 754.4 L824.2 756.1 L824.3 758.0 L824.5 758.4 L824.6 758.3 L824.8 760.6 L824.8 759.3 L825.0 760.3 L825.1 760.5 L825.2 760.0 L825.3 759.6 L825.3 760.3 L825.5 760.0 L825.6 758.3 L825.7 757.8 L825.8 756.1 L825.9 754.4 L826.1 748.0 L826.2 742.8 L826.3 736.5 L826.5 720.7 L826.7 702.0 L826.9 680.7 L827.1 667.9 L827.3 657.5 L827.5 646.8 L827.7 634.8 L827.9 622.7 L828.1 610.3 L828.3 597.8 L828.5 585.1 L828.7 570.7 L828.9 553.4 L829.1 536.0 L829.3 517.0 L829.5 497.8 L829.8 478.7 L830.0 459.5 L830.2 440.3 L830.4 421.3 L830.6 403.9 L830.8 386.5 L831.0 372.1 L831.2 359.5 L831.4 346.9 L831.6 334.5 L831.8 322.4 L832.0 310.3 L832.2 299.7 L832.4 289.3 L832.6 276.2 L832.8 255.1 L833.0 236.5 L833.2 220.8 L833.3 214.5 L833.4 209.4 L833.6 203.0 L833.7 201.3 L833.8 199.5 L833.9 198.8 L834.0 197.8 L834.2 197.5 L834.2 197.1 L834.3 196.4 L834.4 196.8 L834.5 196.4 L834.7 196.8 L834.7 198.2 L834.9 198.2 L835.0 198.0 L835.2 200.2 L835.4 201.2 L835.4 202.9 L835.7 209.3 L835.8 214.5 L836.0 220.8 L836.2 236.4 L836.5 254.9 L836.7 276.0 L837.0 289.0 L837.2 299.4 L837.5 310.0 L837.8 322.0 L838.0 334.2 L838.3 346.5 L838.5 359.0 L838.8 371.7 L839.1 386.0 L839.3 403.3 L839.6 420.7 L839.8 439.7 L840.1 458.8 L840.3 477.9 L840.6 497.0 L840.9 516.1 L841.1 535.1 L841.4 552.5 L841.6 569.8 L841.9 584.1 L842.2 596.8 L842.4 609.3 L842.7 621.6 L842.9 633.8 L843.2 645.8 L843.5 656.4 L843.7 666.8 L844.0 679.9 L844.2 700.9 L844.5 719.4 L844.7 735.0 L844.9 741.3 L845.0 746.5 L845.3 752.8 L845.3 754.6 L845.5 757.2 L845.7 757.2 L845.8 757.0 L846.0 757.8 L846.0 757.7 L846.2 758.5 L846.3 759.0 L846.4 758.1 L846.5 758.0 L846.5 757.9 L846.7 757.8 L846.7 757.9 L846.9 756.3 L847.0 754.5 L847.1 752.8 L847.3 746.4 L847.4 741.3 L847.5 735.0 L847.7 719.4 L847.8 700.8 L848.0 679.7 L848.2 666.6 L848.4 656.2 L848.6 645.6 L848.8 633.6 L849.0 621.4 L849.2 609.0 L849.4 596.4 L849.6 583.8 L849.8 569.4 L850.0 552.1 L850.2 534.6 L850.4 515.7 L850.6 496.5 L850.8 477.4 L850.9 458.2 L851.1 439.0 L851.3 420.1 L851.5 402.6 L851.7 385.3 L851.9 370.9 L852.1 358.3 L852.3 345.7 L852.5 333.3 L852.7 321.2 L852.9 309.2 L853.1 298.5 L853.3 288.1 L853.5 275.1 L853.7 254.0 L853.8 235.4 L854.0 219.7 L854.1 213.4 L854.2 208.3 L854.4 201.9 L854.5 200.1 L854.6 198.4 L854.8 197.9 L854.8 196.9 L855.0 196.2 L855.0 196.3 L855.1 195.7 L855.2 195.7 L855.3 195.6 L855.5 195.4 L855.5 195.9 L855.7 197.9 L855.8 196.8 L856.0 198.4 L856.2 200.1 L856.2 201.8 L856.5 208.3 L856.6 213.4 L856.8 219.7 L857.0 235.3 L857.3 253.9 L857.5 275.0 L857.8 288.0 L858.1 298.4 L858.3 309.1 L858.6 321.1 L858.9 333.2 L859.1 345.6 L859.4 358.1 L859.6 370.7 L859.9 385.1 L860.2 402.4 L860.4 419.9 L860.7 438.8 L860.9 457.9 L861.2 477.1 L861.5 496.3 L861.7 515.4 L862.0 534.3 L862.2 551.8 L862.5 569.1 L862.8 583.5 L863.0 596.2 L863.3 608.8 L863.5 621.2 L863.8 633.4 L864.1 645.4 L864.3 656.1 L864.6 666.5 L864.9 679.9 L865.1 700.8 L865.4 719.1 L865.6 734.5 L865.8 740.8 L865.9 745.9 L866.2 752.3 L866.2 754.0 L866.4 756.0 L866.6 757.4 L866.7 756.6 L866.9 757.4 L866.9 757.5 L867.1 758.1 L867.2 758.5 L867.3 758.2 L867.4 758.8 L867.4 758.5 L867.6 757.8 L867.6 755.9 L867.8 755.7 L867.9 754.0 L868.0 751.8 L868.2 745.2 L868.3 740.9 L868.4 732.8 L868.6 716.8 L868.8 697.7 L869.0 676.2 L869.2 664.9 L869.4 654.3 L869.6 643.1 L869.8 630.9 L870.0 618.5 L870.2 605.8 L870.4 593.0 L870.6 580.1 L870.8 563.7 L871.0 546.1 L871.2 527.8 L871.4 508.4 L871.6 489.0 L871.7 469.6 L871.9 450.2 L872.1 430.8 L872.3 412.5 L872.5 394.9 L872.7 378.5 L872.9 365.5 L873.1 352.7 L873.3 340.0 L873.5 327.6 L873.7 315.3 L873.9 304.1 L874.1 293.5 L874.3 282.0 L874.5 260.6 L874.7 241.7 L874.9 225.7 L875.0 217.7 L875.1 213.4 L875.3 206.8 L875.4 204.6 L875.5 202.9 L875.7 201.0 L875.7 201.9 L875.9 201.4 L875.9 200.6 L876.0 200.4 L876.1 200.1 L876.2 199.4 L876.4 200.5 L876.4 201.5 L876.6 202.1 L876.7 202.5 L876.9 203.8 L877.1 204.6 L877.2 206.8 L877.5 213.5 L877.6 217.8 L877.7 225.8 L878.0 241.8 L878.3 260.8 L878.6 282.2 L878.8 293.7 L879.1 304.4 L879.4 315.6 L879.7 327.9 L879.9 340.4 L880.2 353.1 L880.5 366.0 L880.7 378.9 L881.0 395.4 L881.3 413.1 L881.6 431.4 L881.8 450.8 L882.1 470.3 L882.4 489.8 L882.7 509.3 L882.9 528.7 L883.2 547.0 L883.5 564.7 L883.8 581.1 L884.0 594.0 L884.3 606.8 L884.6 619.5 L884.8 631.9 L885.1 644.2 L885.4 655.4 L885.7 666.1 L885.9 677.1 L886.2 698.9 L886.5 718.0 L886.8 734.3 L886.9 742.4 L887.0 746.7 L887.3 753.3 L887.4 755.5 L887.6 756.7 L887.8 757.5 L887.9 758.0 L888.1 759.4 L888.1 759.8 L888.3 760.6 L888.4 760.0 L888.5 760.2 L888.6 759.7 L888.6 759.8 L888.8 758.6 L888.8 758.3 L889.0 757.3 L889.1 755.5 L889.2 753.8 L889.4 747.4 L889.5 742.3 L889.6 736.0 L889.8 720.5 L889.9 702.0 L890.1 681.1 L890.3 667.8 L890.5 657.4 L890.7 646.7 L890.9 634.7 L891.1 622.5 L891.3 610.1 L891.5 597.5 L891.7 584.9 L891.9 570.4 L892.1 553.1 L892.3 535.7 L892.5 516.7 L892.7 497.6 L892.8 478.4 L893.0 459.2 L893.2 440.1 L893.4 421.1 L893.6 403.7 L893.8 386.4 L894.0 372.0 L894.2 359.3 L894.4 346.8 L894.6 334.4 L894.8 322.2 L895.0 310.2 L895.2 299.6 L895.4 289.2 L895.6 276.0 L895.8 255.0 L895.9 236.4 L896.1 220.8 L896.2 214.5 L896.3 209.4 L896.5 203.0 L896.6 201.3 L896.7 199.5 L896.9 197.7 L896.9 198.7 L897.1 197.0 L897.1 198.1 L897.2 197.3 L897.3 196.8 L897.4 196.6 L897.6 196.7 L897.6 197.0 L897.8 198.4 L897.9 198.9 L898.1 198.8 L898.3 201.2 L898.4 203.0 L898.7 209.4 L898.8 214.5 L898.9 220.8 L899.2 236.4 L899.5 254.9 L899.7 275.9 L900.0 289.0 L900.3 299.4 L900.6 310.0 L900.8 322.0 L901.1 334.2 L901.4 346.5 L901.6 359.0 L901.9 371.6 L902.2 386.0 L902.5 403.3 L902.7 420.7 L903.0 439.7 L903.3 458.8 L903.5 477.9 L903.8 497.0 L904.1 516.1 L904.4 535.1 L904.6 552.5 L904.9 569.8 L905.2 584.2 L905.5 596.8 L905.7 609.4 L906.0 621.7 L906.3 633.9 L906.5 645.9 L906.8 656.6 L907.1 667.0 L907.4 680.2 L907.6 701.1 L907.9 719.5 L908.2 735.0 L908.3 741.3 L908.4 746.4 L908.7 752.8 L908.8 754.5 L909.0 755.5 L909.2 757.3 L909.3 757.8 L909.5 758.2 L909.5 758.0 L909.7 759.0 L909.8 759.0 L909.9 757.9 L910.0 758.1 L910.0 758.3 L910.2 758.5 L910.2 757.5 L910.4 756.3 L910.5 754.5 L910.6 752.8 L910.7 746.4 L910.8 741.3 L910.9 735.1 L911.1 719.6 L911.3 701.2 L911.5 680.4 L911.7 667.1 L911.9 656.8 L912.1 646.2 L912.3 634.2 L912.4 622.0 L912.6 609.6 L912.8 597.1 L913.0 584.5 L913.2 570.1 L913.4 552.9 L913.6 535.5 L913.8 516.6 L914.0 497.6 L914.1 478.5 L914.3 459.3 L914.5 440.3 L914.7 421.4 L914.9 404.0 L915.1 386.8 L915.3 372.4 L915.5 359.8 L915.7 347.3 L915.9 334.9 L916.0 322.7 L916.2 310.7 L916.4 300.1 L916.6 289.8 L916.8 276.5 L917.0 255.7 L917.2 237.3 L917.4 221.8 L917.5 215.6 L917.6 210.5 L917.7 204.1 L917.8 202.4 L917.9 200.6 L918.1 200.3 L918.1 199.2 L918.3 198.1 L918.3 198.0 L918.4 198.9 L918.5 197.9 L918.6 198.5 L918.8 198.1 L918.8 197.7 L919.0 199.3 L919.1 200.0 L919.3 200.5 L919.5 202.4 L919.6 204.1 L919.8 210.5 L920.0 215.6 L920.1 221.9 L920.4 237.3 L920.7 255.8 L920.9 276.7 L921.2 289.9 L921.5 300.3 L921.7 310.9 L922.0 323.0 L922.3 335.1 L922.5 347.5 L922.8 360.1 L923.1 372.7 L923.4 387.1 L923.6 404.4 L923.9 421.8 L924.2 440.7 L924.4 459.8 L924.7 478.9 L925.0 498.1 L925.2 517.2 L925.5 536.1 L925.8 553.5 L926.0 570.8 L926.3 585.2 L926.6 597.8 L926.9 610.3 L927.1 622.6 L927.4 634.8 L927.7 646.8 L927.9 657.4 L928.2 667.8 L928.5 680.8 L928.7 701.8 L929.0 720.4 L929.3 736.0 L929.4 742.3 L929.6 747.5 L929.8 753.9 L929.9 755.6 L930.1 756.8 L930.3 758.6 L930.4 759.4 L930.6 758.9 L930.6 758.6 L930.8 759.5 L930.9 760.0 L931.0 759.7 L931.1 759.8 L931.1 758.8 L931.3 759.2 L931.3 758.7 L931.5 757.3 L931.6 755.6 L931.6 753.8 L931.8 747.4 L931.9 742.3 L932.0 735.9 L932.2 720.3 L932.4 701.6 L932.6 680.4 L932.7 667.4 L932.9 657.0 L933.1 646.3 L933.3 634.3 L933.5 622.1 L933.7 609.7 L933.9 597.1 L934.0 584.5 L934.2 570.0 L934.4 552.7 L934.6 535.2 L934.8 516.2 L935.0 497.1 L935.1 477.9 L935.3 458.6 L935.5 439.5 L935.7 420.5 L935.9 402.9 L936.1 385.4 L936.3 370.7 L936.4 357.7 L936.6 344.7 L936.8 332.0 L937.0 319.5 L937.2 307.3 L937.4 296.4 L937.6 285.6 L937.7 270.0 L937.9 250.8 L938.1 233.9 L938.3 219.6 L938.4 213.8 L938.5 208.8 L938.7 202.4 L938.7 200.7 L938.8 198.6 L939.0 197.6 L939.0 196.6 L939.2 197.2 L939.2 195.9 L939.3 196.5 L939.4 195.7 L939.5 195.4 L939.6 195.8 L939.7 196.8 L939.9 196.9 L939.9 198.2 L940.1 198.7 L940.2 200.4 L940.4 203.5 L940.6 210.8 L940.6 212.6 L940.9 223.2 L941.1 238.6 L941.3 256.7 L941.6 275.7 L941.8 286.3 L942.1 297.2 L942.3 309.0 L942.5 321.4 L942.8 334.1 L943.0 347.0 L943.3 360.0 L943.5 375.3 L943.8 392.7 L944.0 410.6 L944.2 429.6 L944.5 448.7 L944.7 467.9 L945.0 487.0 L945.2 506.0 L945.4 524.3 L945.7 542.2 L945.9 558.4 L946.2 573.2 L946.4 587.8 L946.7 602.0 L946.9 615.7 L947.1 628.3 L947.4 640.4 L947.6 655.9 L947.9 670.6 L948.1 683.7 L948.3 695.0 L948.6 703.1 L948.6 704.5 L948.8 711.4 L949.0 714.3 L949.1 716.3 L949.3 718.7 L949.3 718.9 L949.5 719.7 L949.6 719.8 L949.7 720.6 L949.8 720.9 L949.9 721.1 L950.1 721.2 L950.1 719.6 L950.4 718.9 L950.4 718.7 L950.7 715.6 L950.7 715.0 L951.0 709.1 L951.1 706.5 L951.4 700.3 L951.7 689.2 L952.0 676.2 L952.3 661.3 L952.6 648.6 L952.9 636.6 L953.2 623.3 L953.5 609.6 L953.8 595.4 L954.2 580.6 L954.5 563.4 L954.8 545.8 L955.1 527.4 L955.4 509.0 L955.7 490.5 L956.0 472.1 L956.3 454.1 L956.6 436.5 L957.0 419.4 L957.3 403.0 L957.6 387.4 L957.9 372.7 L958.2 359.1 L958.5 346.6 L958.8 335.3 L959.1 325.4 L959.4 316.9 L959.7 311.9 L959.8 309.8 L960.1 304.2 L960.1 303.7 L960.4 300.2 L960.4 299.1 L960.7 298.7 L960.7 297.0 L960.9 296.3 L961.0 297.0 L961.1 296.3 L961.3 297.4 L961.4 298.6 L961.6 299.9 L961.7 300.6 L961.9 302.5 L962.1 305.1 L962.4 309.4 L962.5 311.3 L962.8 319.1 L963.2 328.6 L963.6 339.5 L963.9 351.8 L964.3 365.3 L964.6 380.0 L965.0 395.6 L965.4 412.0 L965.7 429.0 L966.1 446.5 L966.5 464.3 L966.8 482.1 L967.2 499.9 L967.6 517.4 L967.9 534.4 L968.3 550.8 L968.7 566.4 L969.0 581.1 L969.4 594.6 L969.7 606.9 L970.1 617.8 L970.5 627.3 L970.8 635.1 L970.9 637.0 L971.2 641.3 L971.4 643.9 L971.6 645.8 L971.7 647.6 L971.9 649.4 L972.0 649.6 L972.2 649.0 L972.3 649.4 L972.4 648.8 L972.6 649.7 L972.7 648.8 L972.8 646.7 L973.1 645.3 L973.2 644.7 L973.5 640.3 L973.6 638.8 L973.9 633.3 L974.3 624.6 L974.7 614.1 L975.1 602.0 L975.5 588.6 L975.9 573.9 L976.3 558.2 L976.7 541.7 L977.1 524.6 L977.5 507.1 L977.9 489.6 L978.3 472.1 L978.7 455.0 L979.1 438.5 L979.5 422.8 L979.9 408.1 L980.3 394.7 L980.7 382.6 L981.1 372.1 L981.5 363.4 L981.8 357.9 L981.9 356.4 L982.2 352.0 L982.3 351.4 L982.6 349.5 L982.7 348.1 L982.8 347.5 L983.0 347.1 L983.1 347.3 L983.2 346.8 L983.4 346.8 L983.5 348.0 L983.6 348.6 L983.9 352.1 L984.0 351.6 L984.4 356.2 L984.4 356.9 L984.9 364.2 L985.3 373.4 L985.8 384.3 L986.2 396.7 L986.6 410.4 L987.1 425.3 L987.5 440.9 L988.0 457.1 L988.4 473.6 L988.8 490.1 L989.3 506.3 L989.7 521.9 L990.2 536.8 L990.6 550.5 L991.1 562.9 L991.5 573.8 L991.9 583.0 L992.4 590.3 L992.4 591.0 L992.8 595.6 L992.9 595.3 L993.2 599.2 L993.3 598.3 L993.4 599.3 L993.6 600.4 L993.7 599.9" stroke-width="3.6"/>
<path d="M378.3 586.6 L378.4 586.7 L378.6 586.3 L378.8 586.0 L378.8 585.6 L379.1 582.7 L379.3 581.7 L379.5 578.8 L379.8 575.6 L380.3 567.4 L380.8 557.0 L381.2 544.9 L381.7 531.2 L382.2 516.3 L382.7 500.5 L383.2 484.1 L383.7 467.6 L384.2 451.2 L384.7 435.4 L385.2 420.5 L385.7 406.8 L386.1 394.7 L386.6 384.3 L387.1 376.1 L387.4 372.9 L387.6 370.0 L387.8 369.4 L388.1 365.8 L388.1 366.2 L388.3 365.9 L388.5 364.5 L388.6 365.1M993.7 599.9 L993.8 600.4 L994.0 599.5 L994.2 597.8 L994.6 596.6 L994.8 594.8 L995.0 592.5 L995.3 588.5 L995.9 579.9 L996.4 569.2 L996.9 556.7 L997.5 542.7 L998.0 527.6 L998.6 511.6 L999.1 495.2 L999.6 478.8 L1000.2 462.8 L1000.7 447.7 L1001.3 433.7 L1001.8 421.2 L1002.3 410.5 L1002.9 401.9 L1003.2 397.9 L1003.4 395.6 L1003.6 393.6 L1004.0 392.5 L1004.2 390.3 L1004.4 390.3 L1004.5 390.5" stroke-width="3.8"/>
<path d="M367.4 402.0 L367.5 401.5 L367.7 402.6 L367.9 403.0 L368.0 402.9 L368.3 405.1 L368.5 407.0 L368.7 408.5 L369.1 413.1 L369.7 421.5 L370.3 431.8 L370.8 443.8 L371.4 457.2 L372.0 471.6 L372.6 486.7 L373.1 501.9 L373.7 517.0 L374.3 531.4 L374.9 544.8 L375.4 556.8 L376.0 567.1 L376.6 575.5 L377.0 580.1 L377.2 581.6 L377.4 583.6 L377.7 585.0 L377.8 586.0 L378.0 586.7 L378.2 586.1 L378.3 586.6M1004.5 390.5 L1004.6 391.3 L1004.8 389.9 L1005.0 391.4 L1005.1 392.4 L1005.3 393.7 L1005.7 395.8 L1005.8 396.6 L1006.2 402.2 L1006.8 411.0 L1007.4 421.7 L1008.0 434.2 L1008.6 448.0 L1009.2 462.8 L1009.8 477.9 L1010.3 493.1 L1010.9 507.9 L1011.5 521.7 L1012.1 534.2 L1012.7 544.9 L1013.2 553.7 L1013.7 559.3 L1013.8 560.1 L1014.2 561.8 L1014.4 563.2 L1014.5 563.5 L1014.7 565.9 L1014.9 564.9 L1015.0 565.4" stroke-width="4.0"/>
<path d="M347.1 432.6 L347.8 433.3 L348.5 438.6 L349.3 445.7 L350.0 455.3 L350.7 466.7 L351.4 479.4 L352.1 492.8 L352.9 506.3 L353.6 519.0 L354.3 530.4 L355.0 540.0 L355.8 547.1 L356.5 552.2 L357.2 553.1 L357.3 552.7 L357.5 552.2 L357.7 551.5 L357.8 551.3 L358.0 551.3 L358.4 547.2 L358.5 547.3 L359.1 540.4 L359.8 531.0 L360.4 519.5 L361.0 506.5 L361.7 492.3 L362.3 477.6 L362.9 462.8 L363.6 448.6 L364.2 435.6 L364.8 424.1 L365.5 414.7 L366.1 407.8 L366.2 407.5 L366.6 404.6 L366.8 403.2 L366.9 403.0 L367.1 401.4 L367.3 401.2 L367.4 402.0M1015.0 565.4 L1015.7 564.5 L1016.3 559.9 L1017.0 553.2 L1017.7 544.2 L1018.3 533.2 L1019.0 520.7 L1019.7 507.1 L1020.4 493.0 L1021.0 478.8 L1021.7 465.2 L1022.4 452.7 L1023.0 441.7 L1023.7 432.7 L1024.4 426.0 L1025.0 422.6 L1025.7 420.5 L1026.4 421.7 L1027.1 426.5 L1027.9 433.6 L1028.6 443.2 L1029.3 454.6 L1030.0 467.3 L1030.8 480.7 L1031.5 494.1 L1032.2 506.8 L1032.9 518.2 L1033.6 527.8 L1034.4 534.9 L1035.1 539.0 L1035.8 540.9" stroke-width="4.2"/>
<path d="M336.0 525.5 L336.9 524.7 L337.9 519.4 L338.8 511.9 L339.7 502.3 L340.6 491.1 L341.6 479.1 L342.5 467.0 L343.4 455.8 L344.3 446.2 L345.2 438.6 L346.2 435.0 L347.1 432.6M1035.8 540.9 L1036.6 540.3 L1037.4 535.4 L1038.3 528.5 L1039.1 519.5 L1039.9 509.0 L1040.7 497.4 L1041.6 485.5 L1042.4 473.9 L1043.2 463.4 L1044.0 454.4 L1044.9 447.2 L1045.7 443.8 L1046.5 442.0 L1047.4 443.3 L1048.4 448.1 L1049.3 456.1 L1050.3 465.9 L1051.2 477.1 L1052.2 488.8 L1053.1 500.0 L1054.1 509.8 L1055.0 516.5 L1056.0 522.7 L1056.9 523.9" stroke-width="4.4"/>
<path d="M305.2 479.5 L306.9 485.1 L308.7 490.3 L310.4 495.9 L312.2 498.5 L313.9 501.6 L315.7 502.3 L316.8 500.8 L318.0 496.5 L319.1 491.6 L320.3 483.7 L321.4 476.9 L322.6 469.3 L323.7 463.6 L324.9 460.5 L326.0 459.3 L327.0 461.5 L328.0 464.9 L329.0 472.9 L330.0 482.2 L331.0 492.4 L332.0 502.6 L333.0 511.9 L334.0 518.7 L335.0 524.1 L336.0 525.5M1056.9 523.9 L1057.9 523.0 L1058.9 517.6 L1059.9 509.9 L1060.9 500.4 L1062.0 489.9 L1063.0 479.4 L1064.0 469.9 L1065.0 463.2 L1066.0 456.7 L1067.0 455.9 L1068.0 456.8 L1069.1 461.4 L1070.1 468.6 L1071.2 475.8 L1072.2 484.7 L1073.2 493.6 L1074.3 502.4 L1075.3 507.8 L1076.4 511.6 L1077.4 513.5 L1078.5 511.9 L1079.7 507.9 L1080.8 502.4 L1081.9 493.3 L1083.1 486.2 L1084.2 478.3 L1085.3 472.1 L1086.5 467.9 L1087.6 466.0 L1088.9 467.7 L1090.2 471.4 L1091.6 477.7 L1092.9 485.3 L1094.2 493.5 L1095.5 498.5 L1096.9 503.0 L1098.2 505.0 L1099.5 504.2 L1100.8 499.8 L1102.1 494.2 L1103.5 488.0 L1104.8 482.7 L1106.1 477.0 L1107.4 474.7 L1108.7 472.6 L1110.1 474.6 L1111.5 478.6 L1112.9 482.8 L1114.4 488.6 L1115.8 494.1 L1117.2 498.6 L1118.6 500.0 L1120.1 499.2 L1121.6 495.5 L1123.1 490.4 L1124.7 485.5 L1126.2 481.2 L1127.7 478.1 L1129.2 476.6 L1130.6 478.0 L1131.9 481.0 L1133.3 484.6 L1134.6 488.0 L1136.0 493.3 L1137.3 495.0 L1138.7 496.4 L1140.1 495.6 L1141.6 492.8 L1143.0 489.9 L1144.4 485.0 L1145.8 481.6 L1147.3 479.1 L1148.7 478.7 L1150.1 478.8 L1151.6 482.3 L1153.0 484.8 L1154.5 487.8 L1155.9 491.0 L1157.4 494.2 L1158.8 494.1 L1160.5 493.2 L1162.1 490.2 L1163.8 487.9 L1165.4 484.2 L1167.0 482.3 L1168.7 480.5 L1170.4 480.5 L1172.0 483.3 L1173.7 486.7 L1175.4 489.6 L1177.0 491.8 L1178.7 491.8 L1180.5 490.3 L1182.2 489.1 L1184.0 486.5 L1185.7 484.3 L1187.5 484.0 L1189.2 482.5 L1190.9 483.1 L1192.7 485.0 L1194.4 485.8 L1196.1 488.5 L1197.9 489.0 L1199.6 489.6 L1201.1 488.7 L1202.7 488.4 L1204.2 487.0 L1205.8 483.8 L1207.4 483.4 L1208.9 482.8 L1210.5 483.4 L1212.2 483.9 L1213.8 485.7 L1215.4 486.9 L1217.1 488.1 L1218.7 489.1 L1220.4 488.3 L1222.1 488.0 L1223.8 486.9 L1225.5 484.8 L1227.2 483.6 L1228.9 484.1 L1230.6 484.1 L1232.3 485.7 L1234.0 486.0 L1235.7 487.5 L1237.4 488.2 L1239.1 489.1 L1240.9 489.4 L1242.7 488.1 L1244.4 486.2 L1246.2 485.2 L1248.0 485.0 L1249.8 484.9 L1251.3 485.3 L1252.9 486.2 L1254.4 486.3 L1256.0 487.4 L1257.5 489.2 L1259.1 489.1 L1260.8 488.7 L1262.5 487.7 L1264.2 486.7 L1266.0 486.8 L1267.7 484.8 L1269.4 484.9 L1271.0 485.7 L1272.6 485.9 L1274.2 486.5 L1275.8 487.7 L1277.4 488.2 L1279.0 487.4" stroke-width="4.6"/>
<path d="M498.2 245.8 V259.2M498.2 249.1 V259.8M518.8 190.3 V201.3M519.7 279.8 V288.2M522.0 622.4 V632.5M540.5 151.2 V164.9M541.0 243.2 V250.4M543.5 623.1 V629.4M561.2 172.1 V178.3M561.6 208.5 V221.2M564.7 629.8 V638.8M583.4 246.1 V254.4M584.8 292.5 V305.2M586.4 633.6 V641.0M603.5 193.9 V206.1M604.3 211.6 V220.7M607.2 638.3 V644.3M625.5 188.0 V197.8M626.7 301.4 V307.9M628.6 632.3 V639.9M646.2 166.5 V180.2M647.2 266.6 V274.6M650.3 622.2 V633.0M667.7 193.7 V203.3M667.8 196.8 V203.9M671.5 632.0 V640.6M688.5 205.4 V219.1M689.9 291.4 V304.4M692.5 623.8 V634.9M711.0 277.0 V290.9M710.2 215.7 V227.9M709.6 193.3 V197.8M732.6 279.4 V290.2M732.1 247.4 V261.0M731.9 230.2 V235.3M753.4 238.3 V250.8M752.8 252.4 V264.3M775.1 298.6 V306.2M794.2 213.3 V223.1M816.6 281.7 V290.6M837.1 242.0 V250.3M858.2 234.0 V243.1M901.3 306.5 V310.6M921.4 259.9 V265.0M942.2 269.8 V276.0" stroke-width="3.2"/>
</g>
<g filter="url(#bl)">
<path d="M342.4 468.2 343.1 459.8 343.7 452.2 344.4 445.5 345.1 440.0 345.8 435.9 346.4 433.4 347.1 432.6 347.7 433.7 348.3 436.9 348.9 442.2 349.6 449.3 350.2 458.0 350.8 467.9 351.4 478.8ZM352.9 506.9 353.5 517.8 354.1 527.7 354.7 536.4 355.4 543.5 356.0 548.8 356.6 552.0 357.2 553.1 357.8 551.7 358.4 547.7 359.1 541.1 359.7 532.2 360.3 521.3 360.9 508.8 361.5 495.2ZM363.1 459.9 363.7 446.3 364.3 433.8 364.9 422.9 365.5 414.0 366.2 407.4 366.8 403.4 367.4 402.0 368.1 403.7 368.7 408.6 369.4 416.7 370.0 427.6 370.7 440.9 371.4 456.1 372.0 472.8ZM373.7 515.8 374.3 532.5 375.0 547.7 375.7 561.0 376.3 571.9 377.0 580.0 377.6 584.9 378.3 586.6 378.9 584.6 379.6 578.6 380.2 569.0 380.8 555.9 381.4 539.9 382.1 521.7 382.7 501.7ZM384.2 450.0 384.8 430.0 385.5 411.8 386.1 395.8 386.7 382.7 387.3 373.1 388.0 367.1 388.6 365.1 389.3 367.4 389.9 374.4 390.6 385.6 391.2 400.8 391.9 419.4 392.6 440.7 393.2 463.9ZM394.9 524.2 395.5 547.4 396.2 568.7 396.9 587.3 397.5 602.5 398.2 613.7 398.8 620.7 399.5 623.0 400.1 620.3 400.8 612.2 401.4 599.0 402.1 581.3 402.7 559.6 403.3 534.7 404.0 507.6ZM405.5 437.3 406.2 410.2 406.8 385.3 407.4 363.6 408.1 345.9 408.7 332.7 409.4 324.6 410.0 321.9 410.6 325.0 411.3 334.3 411.9 349.4 412.6 369.7 413.2 394.5 413.9 423.0 414.5 454.1ZM416.2 534.5 416.8 565.6 417.5 594.1 418.1 618.9 418.8 639.2 419.4 654.3 420.1 663.6 420.7 666.7 421.3 663.2 422.0 652.8 422.6 635.8 423.3 613.0 423.9 585.0 424.6 553.0 425.2 518.1ZM426.9 427.6 427.5 393.1 428.2 361.7 428.8 334.0 429.5 310.4 430.1 292.9 430.8 282.4 431.4 279.0 432.0 282.7 432.7 294.5 433.3 314.0 434.0 340.4 434.6 371.2 435.3 406.3 435.9 444.8ZM437.5 545.6 438.1 582.6 438.8 615.1 439.4 643.9 440.1 673.8 440.7 696.2 441.4 708.5 442.0 711.5 442.6 708.3 443.3 694.9 443.9 670.5 444.6 638.0 445.2 606.6 445.9 571.3 446.5 531.1ZM448.2 421.7 448.8 382.8 449.5 350.0 450.1 320.4 450.8 285.9 451.4 257.5 452.1 243.8 452.7 241.2 453.4 244.0 454.0 259.0 454.7 289.9 455.3 327.6 456.0 359.9 456.7 395.7 457.3 438.2ZM459.0 557.2 459.6 598.4 460.3 631.7 461.0 662.3 461.6 699.6 462.3 737.0 462.9 751.9 463.6 754.3 464.2 751.7 464.8 735.6 465.4 695.1 466.1 654.7 466.7 621.5 467.3 585.4 467.9 540.8ZM469.4 412.2 470.0 368.5 470.6 334.4 471.2 302.4 471.9 264.9 472.5 216.8 473.1 201.0 473.7 198.6 474.4 201.1 475.1 217.6 475.8 267.8 476.4 307.0 477.1 340.4 477.8 376.0 478.5 421.6ZM480.2 555.6 480.9 600.2 481.6 633.7 482.3 665.8 482.9 696.7 483.6 760.9 484.3 776.6 485.0 778.8 485.6 776.4 486.2 759.1 486.8 688.7 487.4 654.8 488.0 619.5 488.6 582.7 489.2 533.8ZM490.6 387.0 491.2 339.0 491.8 304.3 492.4 270.2 493.0 241.4 493.6 159.8 494.2 144.1 494.8 141.9 495.4 144.1 496.1 160.4 496.7 244.4 497.4 274.1 498.0 309.1 498.6 344.9 499.3 394.4ZM500.8 545.4 501.5 594.4 502.1 629.2 502.8 663.5 503.4 692.7 504.0 780.8 504.7 795.8 505.3 797.9 505.9 795.7 506.6 780.3 507.2 689.9 507.9 659.8 508.5 624.6 509.2 588.8 509.8 538.5ZM511.5 383.5 512.1 333.6 512.8 298.8 513.4 264.5 514.1 234.9 514.7 140.4 515.4 126.1 516.0 124.0 516.6 126.2 517.3 140.9 517.9 238.5 518.5 269.0 519.1 304.4 519.8 340.4 520.4 391.9ZM521.9 551.7 522.5 602.8 523.2 637.8 523.8 672.4 524.4 702.5 525.0 803.5 525.7 817.6 526.3 819.7 527.0 817.6 527.6 803.1 528.3 699.7 529.0 668.8 529.7 633.4 530.3 597.5 531.0 545.2ZM532.7 381.6 533.4 329.5 534.0 294.2 534.7 259.3 535.4 228.7 536.1 123.0 536.7 109.1 537.4 107.0 538.0 109.1 538.6 123.2 539.2 230.0 539.9 260.9 540.5 296.2 541.1 331.8 541.7 384.5ZM543.2 549.8 543.8 602.4 544.4 637.8 545.0 673.0 545.7 703.8 546.3 811.2 546.9 825.2 547.5 827.3 548.2 825.2 548.9 811.1 549.6 703.1 550.2 672.0 550.9 636.7 551.6 601.0 552.3 548.1ZM554.0 381.8 554.7 328.9 555.4 293.2 556.1 257.9 556.7 226.8 557.4 118.8 558.1 104.7 558.8 102.6 559.4 104.7 560.0 118.8 560.6 227.0 561.2 258.1 561.8 293.5 562.4 329.2 563.0 382.2ZM564.4 548.8 565.0 601.8 565.6 637.5 566.2 672.9 566.8 704.0 567.4 812.2 568.0 826.3 568.6 828.4 569.3 826.3 570.0 812.4 570.7 705.1 571.3 674.3 572.0 639.2 572.7 603.8 573.4 551.3ZM575.1 386.3 575.8 333.7 576.5 298.2 577.2 263.0 577.8 232.2 578.5 125.3 579.2 111.3 579.9 109.2 580.5 111.3 581.1 125.3 581.7 231.6 582.4 262.3 583.0 297.3 583.6 332.7 584.2 385.0ZM585.7 549.3 586.3 601.7 586.9 637.2 587.5 672.4 588.2 703.2 588.8 808.9 589.4 823.0 590.0 825.1 590.7 823.0 591.3 809.0 592.0 703.9 592.7 673.2 593.4 638.3 594.0 602.9 594.7 550.8ZM596.4 387.4 597.1 335.1 597.7 299.5 598.4 264.3 599.1 233.6 599.8 129.5 600.4 115.2 601.1 113.1 601.7 115.2 602.3 129.3 602.9 232.3 603.6 262.7 604.2 297.5 604.8 332.8 605.4 384.4ZM606.9 546.2 607.5 598.0 608.1 633.5 608.7 668.6 609.4 699.1 610.0 801.1 610.6 815.4 611.2 817.5 611.9 815.4 612.5 801.2 613.2 699.9 613.9 669.5 614.6 634.6 615.2 599.3 615.9 547.9ZM617.6 387.1 618.3 335.5 618.9 299.9 619.6 264.8 620.3 234.3 621.0 134.1 621.6 119.6 622.3 117.5 622.9 119.6 623.6 133.9 624.2 233.2 624.8 263.3 625.4 298.1 626.1 333.3 626.7 384.4ZM628.2 543.6 628.8 594.7 629.5 630.1 630.1 665.0 630.7 695.2 631.3 794.0 632.0 808.4 632.6 810.5 633.3 808.4 633.9 793.9 634.6 694.9 635.3 664.6 636.0 629.6 636.6 594.2 637.3 542.9ZM639.0 383.3 639.7 332.0 640.3 296.4 641.0 261.4 641.7 231.0 642.4 132.3 643.0 117.8 643.7 115.7 644.3 117.8 644.9 132.2 645.5 230.1 646.1 260.2 646.7 295.0 647.3 330.2 648.0 381.1ZM649.5 539.5 650.1 590.5 650.7 626.2 651.3 661.4 651.9 691.7 652.5 788.0 653.1 802.7 653.7 804.8 654.4 802.7 655.0 788.3 655.7 693.6 656.4 663.9 657.1 629.3 657.7 594.2 658.4 544.1ZM660.1 388.4 660.8 338.0 661.4 302.5 662.1 267.5 662.8 237.5 663.5 144.6 664.1 129.9 664.8 127.7 665.4 129.8 666.0 144.4 666.6 236.3 667.2 266.0 667.8 300.5 668.4 335.7 669.0 385.5ZM670.5 539.6 671.1 589.6 671.7 625.2 672.3 660.1 672.9 690.0 673.5 780.0 674.1 795.2 674.7 797.4 675.4 795.2 676.0 780.2 676.7 691.4 677.4 661.9 678.1 627.4 678.7 592.3 679.4 542.9ZM681.1 390.8 681.8 341.3 682.4 305.7 683.1 270.8 683.8 241.1 684.5 154.4 685.1 138.6 685.8 136.4 686.4 138.6 687.1 154.1 687.7 239.5 688.3 268.7 688.9 303.1 689.6 338.2 690.2 387.0ZM691.7 536.9 692.3 585.9 693.0 621.4 693.6 656.2 694.2 685.7 694.8 769.1 695.5 785.2 696.1 787.4 696.8 785.2 697.5 769.3 698.2 687.2 698.8 658.2 699.5 623.9 700.2 588.8 700.9 540.5ZM702.6 392.7 703.3 344.2 704.0 308.7 704.7 274.0 705.3 244.7 706.0 164.5 706.7 148.1 707.4 145.9 708.0 148.1 708.7 164.2 709.3 243.4 709.9 272.3 710.5 306.5 711.2 341.5 711.8 389.4ZM713.3 535.2 713.9 583.3 714.6 618.8 715.2 653.3 715.8 682.6 716.4 759.9 717.1 776.4 717.7 778.7 718.4 776.5 719.0 760.2 719.7 684.0 720.3 655.1 721.0 621.2 721.7 586.2 722.3 538.8ZM724.0 395.1 724.6 347.6 725.3 312.2 726.0 278.1 726.6 248.8 727.3 174.1 727.9 157.6 728.6 155.3 729.3 157.6 730.0 174.0 730.7 248.0 731.3 276.9 732.0 310.7 732.7 345.8 733.4 392.9ZM735.1 535.4 735.8 582.8 736.5 618.6 737.2 652.8 737.8 686.3 738.5 753.7 739.2 770.6 739.9 772.9 740.5 770.6 741.1 754.4 741.7 689.4 742.3 657.1 742.9 624.1 743.5 589.6 744.1 543.8ZM745.6 406.3 746.2 360.1 746.8 324.9 747.4 291.4 748.0 255.6 748.6 196.1 749.2 179.6 749.8 177.2 750.4 179.5 751.1 195.9 751.7 254.8 752.4 290.3 753.0 323.4 753.7 358.3 754.3 404.0ZM756.0 540.2 756.6 586.0 757.3 621.4 757.9 654.7 758.6 691.9 759.2 748.0 759.9 764.5 760.5 766.9 761.1 764.6 761.7 748.3 762.4 693.2 763.0 656.7 763.6 623.9 764.2 589.2 764.8 544.1ZM766.4 410.2 767.0 365.0 767.6 329.9 768.2 296.9 768.8 259.4 769.5 206.1 770.1 189.8 770.7 187.4 771.4 189.8 772.1 206.1 772.8 259.2 773.6 296.7 774.3 329.6 775.0 364.5 775.7 409.7ZM777.5 543.3 778.2 588.4 778.9 623.4 779.6 656.3 780.4 693.9 781.1 746.8 781.8 763.1 782.5 765.5 783.1 763.1 783.6 746.8 784.2 694.0 784.8 656.4 785.4 623.5 785.9 588.5 786.5 543.4ZM787.9 409.9 788.5 364.7 789.0 329.7 789.6 296.7 790.2 259.0 790.8 206.5 791.3 190.2 791.9 187.8 792.6 190.2 793.4 206.4 794.1 258.7 794.8 296.3 795.5 329.2 796.3 364.1 797.0 409.0ZM798.8 542.1 799.5 587.2 800.3 622.4 801.0 655.4 801.7 693.8 802.4 744.5 803.2 760.9 803.9 763.3 804.5 760.9 805.0 744.8 805.6 694.7 806.2 656.9 806.8 624.3 807.3 589.6 807.9 545.1ZM809.3 413.9 809.9 369.2 810.4 334.2 811.0 301.5 811.6 262.9 812.2 214.3 812.7 198.1 813.3 195.7 814.0 198.1 814.7 214.2 815.4 262.6 816.2 301.0 816.9 333.5 817.6 368.4 818.3 412.8ZM820.1 543.4 820.8 587.9 821.5 622.8 822.2 655.5 823.0 694.1 823.7 742.0 824.4 758.1 825.1 760.5 825.7 758.1 826.2 742.0 826.8 694.2 827.4 655.7 827.9 623.1 828.5 588.2 829.1 543.8ZM830.4 413.5 831.0 369.0 831.6 334.1 832.1 301.5 832.7 262.8 833.3 215.3 833.8 199.2 834.4 196.8 835.1 199.2 835.8 215.3 836.6 262.6 837.3 301.2 838.0 333.7 838.7 368.6 839.5 412.9ZM841.2 542.9 842.0 587.2 842.7 622.1 843.4 654.6 844.1 693.2 844.9 740.5 845.6 756.6 846.3 759.0 846.8 756.6 847.4 740.5 847.9 693.1 848.5 654.4 849.0 621.8 849.5 586.9 850.1 542.5ZM851.4 412.2 852.0 367.8 852.5 332.9 853.0 300.3 853.6 261.7 854.1 214.2 854.7 198.1 855.2 195.7 855.9 198.1 856.7 214.2 857.4 261.6 858.1 300.2 858.8 332.8 859.6 367.7 860.3 412.0ZM862.1 542.2 862.8 586.6 863.6 621.6 864.3 654.3 865.0 693.2 865.7 739.9 866.5 756.1 867.2 758.5 867.7 756.1 868.3 740.1 868.8 693.7 869.4 655.1 869.9 622.7 870.4 587.9 871.0 543.9ZM872.3 414.7 872.9 370.6 873.4 335.8 873.9 303.3 874.5 264.6 875.0 218.5 875.6 202.5 876.1 200.1 876.8 202.5 877.6 218.6 878.3 264.8 879.1 303.6 879.8 336.1 880.6 371.1 881.3 415.3ZM883.2 544.8 883.9 589.0 884.7 623.7 885.4 656.2 886.2 694.8 886.9 741.6 887.7 757.6 888.4 760.0 888.9 757.6 889.5 741.5 890.0 694.4 890.6 655.6 891.1 622.9 891.6 588.0 892.2 543.5ZM893.5 413.3 894.1 368.9 894.6 334.0 895.1 301.4 895.7 262.7 896.2 215.3 896.8 199.2 897.3 196.8 898.1 199.2 898.8 215.3 899.6 262.6 900.3 301.2 901.1 333.7 901.9 368.6 902.6 412.9ZM904.5 542.9 905.2 587.3 906.0 622.2 906.8 654.8 907.5 693.5 908.3 740.5 909.0 756.6 909.8 759.0 910.3 756.6 910.9 740.5 911.4 693.6 911.9 655.0 912.4 622.4 913.0 587.6 913.5 543.3ZM914.8 413.6 915.3 369.3 915.9 334.5 916.4 301.9 916.9 263.3 917.4 216.4 918.0 200.3 918.5 197.9 919.3 200.3 920.0 216.4 920.8 263.4 921.5 302.1 922.3 334.7 923.0 369.6 923.8 413.9ZM925.6 544.0 926.4 588.2 927.1 623.1 927.9 655.6 928.6 694.1 929.4 741.5 930.1 757.6 930.9 760.0 931.4 757.6 931.9 741.4 932.4 693.9 933.0 655.2 933.5 622.5 934.0 587.6 934.5 543.1ZM935.8 412.5 936.3 367.5 936.8 331.5 937.3 298.2 937.9 257.8 938.4 214.6 938.9 198.3 939.4 195.7 940.0 198.1 940.7 213.3 941.3 253.5 941.9 291.1 942.6 322.1 943.2 355.6 943.8 397.5ZM945.4 519.3 946.0 563.4 946.6 601.2 947.3 635.1 947.9 672.9 948.5 702.5 949.2 717.8 949.8 720.9 950.5 718.4 951.2 706.1 951.8 682.2 952.5 651.6 953.2 624.3 953.9 593.8 954.6 558.2ZM956.2 459.5 956.9 421.3 957.6 386.3 958.3 355.8 959.0 330.8 959.6 312.2 960.3 300.8 961.0 297.0 961.7 300.2 962.4 309.7 963.1 325.1 963.7 345.8 964.4 371.2 965.1 400.3 965.8 432.1ZM967.5 514.3 968.2 546.1 968.9 575.2 969.6 600.6 970.2 621.3 970.9 636.7 971.6 646.2 972.3 649.4 973.0 646.7 973.6 638.5 974.3 625.3 974.9 607.5 975.6 585.8 976.2 560.8 976.9 533.6ZM978.5 463.1 979.2 435.9 979.8 410.9 980.5 389.2 981.1 371.4 981.8 358.2 982.4 350.0 983.1 347.3 983.7 349.6 984.4 356.4 985.0 367.4 985.7 382.3 986.3 400.5 987.0 421.4 987.6 444.1ZM989.2 503.1 989.8 525.8 990.5 546.7 991.1 564.9 991.8 579.8 992.4 590.8 993.1 597.6 993.7 599.9 994.4 598.0 995.0 592.4 995.7 583.2 996.3 570.9 997.0 555.8 997.6 538.5 998.3 519.6ZM999.9 470.8 1000.6 451.9 1001.2 434.6 1001.9 419.5 1002.5 407.2 1003.2 398.0 1003.8 392.4 1004.5 390.5 1005.1 392.1 1005.8 396.8 1006.4 404.4 1007.0 414.7 1007.7 427.3 1008.3 441.8 1009.0 457.5ZM1010.5 498.4 1011.2 514.1 1011.8 528.6 1012.5 541.2 1013.1 551.5 1013.7 559.1 1014.4 563.8 1015.0 565.4 1015.6 564.1 1016.3 560.2 1016.9 553.9 1017.6 545.3 1018.2 534.9 1018.9 522.9 1019.5 509.9ZM1021.2 476.0 1021.8 463.0 1022.5 451.0 1023.1 440.6 1023.8 432.0 1024.4 425.7 1025.1 421.8 1025.7 420.5 1026.3 421.6 1026.9 424.8 1027.5 430.1 1028.2 437.2 1028.8 445.9 1029.4 455.8 1030.0 466.6ZM1031.5 494.8 1032.1 505.6 1032.7 515.5 1033.3 524.2 1034.0 531.3 1034.6 536.6 1035.2 539.8 1035.8 540.9 1036.4 540.0 1037.1 537.3 1037.7 533.0 1038.4 527.2 1039.0 520.1 1039.7 511.9 1040.3 503.0ZM1042.0 479.9 1042.6 471.0 1043.3 462.8 1043.9 455.7 1044.6 449.9 1045.2 445.6 1045.9 442.9 1046.5 442.0 1047.1 442.7 1047.8 444.9 1048.4 448.5 1049.0 453.4 1049.7 459.3 1050.3 466.0 1050.9 473.4Z" fill="#4a7ab0" fill-opacity="0.15"/>
<path d="M343.3 456.7 343.9 450.7 344.4 445.5 344.9 441.0 345.5 437.4 346.0 434.7 346.6 433.1 347.1 432.6 347.6 433.3 348.1 435.4 348.6 438.8 349.1 443.5 349.6 449.3 350.0 456.1 350.5 463.8ZM353.8 521.9 354.3 529.6 354.7 536.4 355.2 542.2 355.7 546.9 356.2 550.3 356.7 552.4 357.2 553.1 357.7 552.2 358.2 549.6 358.7 545.3 359.2 539.5 359.7 532.2 360.2 523.6 360.7 513.9ZM363.9 441.2 364.4 431.5 364.9 422.9 365.4 415.6 365.9 409.8 366.4 405.5 366.9 402.9 367.4 402.0 367.9 403.1 368.5 406.3 369.0 411.5 369.5 418.7 370.0 427.6 370.6 438.1 371.1 449.8ZM374.6 538.8 375.1 550.5 375.7 561.0 376.2 569.9 376.7 577.1 377.2 582.3 377.8 585.5 378.3 586.6 378.8 585.3 379.3 581.5 379.8 575.2 380.3 566.6 380.8 555.9 381.3 543.3 381.8 529.2ZM385.1 422.5 385.6 408.4 386.1 395.8 386.6 385.1 387.1 376.5 387.6 370.2 388.1 366.4 388.6 365.1 389.1 366.6 389.7 371.1 390.2 378.4 390.7 388.4 391.2 400.8 391.8 415.5 392.3 431.9ZM395.8 556.2 396.3 572.6 396.9 587.3 397.4 599.7 397.9 609.7 398.4 617.0 399.0 621.5 399.5 623.0 400.0 621.3 400.5 616.0 401.0 607.5 401.5 595.8 402.1 581.3 402.6 564.2 403.1 545.0ZM406.4 399.9 406.9 380.7 407.4 363.6 408.0 349.1 408.5 337.4 409.0 328.9 409.5 323.6 410.0 321.9 410.5 323.9 411.0 329.9 411.6 339.7 412.1 353.0 412.6 369.7 413.1 389.2 413.6 411.2ZM417.1 577.4 417.6 599.4 418.1 618.9 418.6 635.6 419.1 648.9 419.7 658.7 420.2 664.7 420.7 666.7 421.2 664.4 421.7 657.7 422.3 646.7 422.8 631.7 423.3 613.0 423.8 591.0 424.3 566.2ZM427.8 380.1 428.3 355.8 428.8 334.0 429.3 314.6 429.8 299.1 430.4 287.8 430.9 281.1 431.4 279.0 431.9 281.4 432.4 288.8 432.9 301.4 433.5 318.8 434.0 340.4 434.5 364.7 435.0 391.8ZM438.4 595.9 438.9 621.2 439.4 643.9 439.9 668.3 440.5 688.4 441.0 702.4 441.5 709.6 442.0 711.5 442.5 709.4 443.0 701.6 443.6 686.3 444.1 664.5 444.6 638.0 445.1 613.3 445.6 585.8ZM449.1 369.5 449.6 343.7 450.1 320.4 450.6 293.0 451.1 267.4 451.7 250.3 452.2 243.0 452.7 241.2 453.2 243.1 453.8 251.1 454.3 269.7 454.8 297.7 455.3 327.6 455.9 353.0 456.4 381.1ZM459.9 611.8 460.4 638.2 461.0 662.3 461.5 690.2 462.0 724.2 462.5 745.4 463.1 752.6 463.6 754.3 464.1 752.5 464.6 744.6 465.1 721.7 465.6 684.9 466.1 654.7 466.5 628.5 467.0 600.0ZM470.3 354.8 470.8 327.7 471.2 302.4 471.7 277.0 472.2 233.1 472.7 207.3 473.2 200.2 473.7 198.6 474.2 200.3 474.8 207.7 475.3 234.7 475.9 280.5 476.4 307.0 477.0 333.4 477.5 361.7ZM481.2 613.6 481.7 640.3 482.3 665.8 482.8 688.0 483.4 739.2 483.9 771.1 484.5 777.3 485.0 778.8 485.5 777.2 486.0 770.3 486.4 735.3 486.9 679.1 487.4 654.8 487.9 626.7 488.3 597.5ZM491.5 325.1 491.9 297.4 492.4 270.2 492.9 247.1 493.4 191.4 493.8 148.8 494.3 143.4 494.8 141.9 495.3 143.4 495.8 149.0 496.3 192.9 496.8 250.3 497.4 274.1 497.9 302.1 498.4 330.6ZM501.7 608.3 502.2 636.1 502.8 663.5 503.3 687.0 503.8 742.4 504.3 791.7 504.8 796.5 505.3 797.9 505.8 796.4 506.3 791.6 506.9 740.8 507.4 684.0 507.9 659.8 508.4 631.7 508.9 603.2ZM512.4 319.7 512.9 291.8 513.4 264.5 513.9 240.6 514.4 188.2 515.0 129.2 515.5 125.4 516.0 124.0 516.5 125.4 517.0 129.4 517.5 190.2 518.0 244.4 518.5 269.0 519.0 297.3 519.5 326.0ZM522.8 616.8 523.3 644.8 523.8 672.4 524.3 696.8 524.8 742.9 525.3 815.5 525.8 818.3 526.3 819.7 526.8 818.3 527.4 815.4 527.9 741.0 528.5 693.8 529.0 668.8 529.5 640.5 530.1 611.9ZM533.6 315.4 534.2 287.2 534.7 259.3 535.2 234.5 535.8 195.3 536.3 111.1 536.9 108.4 537.4 107.0 537.9 108.4 538.4 111.2 538.9 196.3 539.4 235.9 539.9 260.9 540.3 289.1 540.8 317.6ZM544.1 616.6 544.6 644.9 545.0 673.0 545.5 698.0 546.0 734.7 546.5 823.1 547.0 825.9 547.5 827.3 548.0 825.9 548.6 823.1 549.1 734.1 549.7 697.2 550.2 672.0 550.8 643.8 551.3 615.3ZM555.0 314.6 555.5 286.1 556.1 257.9 556.6 232.7 557.2 195.8 557.7 106.8 558.3 104.0 558.8 102.6 559.3 104.0 559.8 106.8 560.2 195.9 560.7 232.9 561.2 258.1 561.7 286.4 562.1 314.9ZM565.3 616.1 565.7 644.6 566.2 672.9 566.7 698.1 567.2 735.1 567.6 824.2 568.1 827.0 568.6 828.4 569.1 827.0 569.7 824.2 570.2 735.9 570.8 699.3 571.3 674.3 571.9 646.3 572.4 618.0ZM576.1 319.5 576.6 291.1 577.2 263.0 577.7 238.0 578.3 199.3 578.8 113.4 579.4 110.6 579.9 109.2 580.4 110.6 580.9 113.4 581.4 198.9 581.9 237.4 582.4 262.3 582.8 290.3 583.3 318.5ZM586.6 615.9 587.1 644.3 587.5 672.4 588.0 697.3 588.5 738.6 589.0 820.9 589.5 823.7 590.0 825.1 590.5 823.7 591.1 820.9 591.6 739.1 592.2 698.0 592.7 673.2 593.2 645.3 593.8 617.1ZM597.3 320.9 597.9 292.4 598.4 264.3 598.9 239.4 599.5 194.6 600.0 117.3 600.6 114.5 601.1 113.1 601.6 114.5 602.1 117.3 602.6 193.7 603.1 238.1 603.6 262.7 604.0 290.5 604.5 318.7ZM607.8 612.2 608.3 640.6 608.7 668.6 609.2 693.3 609.7 741.0 610.2 813.3 610.7 816.1 611.2 817.5 611.7 816.1 612.3 813.3 612.8 741.5 613.4 694.1 613.9 669.5 614.4 641.7 615.0 613.5ZM618.5 321.3 619.1 292.8 619.6 264.8 620.1 240.2 620.7 190.0 621.2 122.1 621.8 118.9 622.3 117.5 622.8 118.9 623.3 122.1 623.8 189.3 624.3 239.0 624.8 263.3 625.3 291.1 625.8 319.2ZM629.1 608.9 629.6 637.1 630.1 665.0 630.6 689.4 631.1 740.1 631.6 805.8 632.1 809.1 632.6 810.5 633.1 809.1 633.7 805.8 634.2 739.9 634.8 689.1 635.3 664.6 635.8 636.7 636.4 608.4ZM639.9 317.8 640.5 289.3 641.0 261.4 641.5 236.9 642.1 185.3 642.6 120.6 643.2 117.1 643.7 115.7 644.2 117.1 644.7 120.5 645.2 184.7 645.6 235.9 646.1 260.2 646.6 287.9 647.1 316.1ZM650.3 604.8 650.8 633.3 651.3 661.4 651.8 685.8 652.2 739.9 652.7 799.4 653.2 803.4 653.7 804.8 654.2 803.4 654.8 799.5 655.3 741.1 655.9 687.9 656.4 663.9 656.9 636.3 657.5 608.3ZM661.0 323.8 661.6 295.4 662.1 267.5 662.6 243.3 663.2 187.8 663.7 133.6 664.3 129.2 664.8 127.7 665.3 129.1 665.8 133.5 666.2 187.1 666.7 242.1 667.2 266.0 667.7 293.6 668.2 321.6ZM671.3 603.9 671.8 632.2 672.3 660.1 672.8 684.1 673.3 740.6 673.7 791.1 674.2 795.9 674.7 797.4 675.2 795.9 675.8 791.2 676.3 741.3 676.9 685.6 677.4 661.9 677.9 634.4 678.5 606.4ZM682.0 327.0 682.6 298.6 683.1 270.8 683.6 246.9 684.2 190.0 684.7 143.1 685.3 137.9 685.8 136.4 686.3 137.9 686.8 143.0 687.3 189.1 687.8 245.3 688.3 268.7 688.8 296.2 689.3 324.1ZM692.6 600.2 693.1 628.5 693.6 656.2 694.1 679.9 694.6 736.9 695.1 780.3 695.6 785.9 696.1 787.4 696.6 785.9 697.2 780.5 697.7 737.6 698.3 681.5 698.8 658.2 699.4 630.8 699.9 602.9ZM703.6 330.0 704.1 301.7 704.7 274.0 705.2 250.5 705.8 193.9 706.3 153.3 706.9 147.4 707.4 145.9 707.9 147.4 708.4 153.2 708.9 193.3 709.4 249.1 709.9 272.3 710.4 299.6 710.9 327.5ZM714.2 597.6 714.7 625.8 715.2 653.3 715.7 676.8 716.2 732.8 716.7 771.0 717.2 777.2 717.7 778.7 718.2 777.2 718.8 771.2 719.3 733.5 719.8 678.3 720.3 655.1 720.9 628.1 721.4 600.3ZM724.9 333.4 725.4 305.3 726.0 278.1 726.5 254.6 727.0 199.4 727.5 163.1 728.1 156.9 728.6 155.3 729.1 156.8 729.7 163.1 730.2 199.0 730.8 253.7 731.3 276.9 731.9 303.9 732.4 331.7ZM736.1 597.2 736.6 625.6 737.2 652.8 737.7 676.5 738.3 731.0 738.8 764.6 739.4 771.3 739.9 772.9 740.4 771.4 740.9 764.9 741.3 732.4 741.8 679.9 742.3 657.1 742.8 630.8 743.3 603.4ZM746.4 346.0 746.9 318.0 747.4 291.4 747.9 268.1 748.4 216.2 748.8 185.7 749.3 178.8 749.8 177.2 750.3 178.8 750.8 185.6 751.4 215.8 751.9 267.2 752.4 290.3 752.9 316.6 753.4 344.3ZM756.9 600.3 757.4 628.3 757.9 654.7 758.4 678.1 758.9 729.0 759.5 758.2 760.0 765.3 760.5 766.9 761.0 765.3 761.5 758.3 762.0 729.6 762.5 679.7 763.0 656.7 763.5 630.7 764.0 603.1ZM767.2 350.8 767.7 323.1 768.2 296.9 768.7 272.9 769.2 224.2 769.7 196.1 770.2 189.0 770.7 187.4 771.3 189.0 771.8 196.1 772.4 224.1 773.0 272.7 773.6 296.7 774.1 322.7 774.7 350.5ZM778.5 602.5 779.1 630.2 779.6 656.3 780.2 680.5 780.8 728.9 781.4 756.8 781.9 763.9 782.5 765.5 783.0 763.9 783.4 756.8 783.9 728.9 784.3 680.6 784.8 656.4 785.2 630.3 785.7 602.6ZM788.7 350.6 789.2 322.8 789.6 296.7 790.1 272.3 790.5 224.3 791.0 196.6 791.4 189.4 791.9 187.8 792.5 189.4 793.1 196.6 793.6 224.2 794.2 271.9 794.8 296.3 795.4 322.3 796.0 350.0ZM799.8 601.4 800.4 629.3 801.0 655.4 801.6 680.9 802.2 727.3 802.7 754.4 803.3 761.6 803.9 763.3 804.4 761.7 804.8 754.5 805.3 727.8 805.7 682.0 806.2 656.9 806.6 631.1 807.1 603.6ZM810.1 355.1 810.6 327.4 811.0 301.5 811.5 275.2 811.9 230.9 812.4 204.7 812.8 197.4 813.3 195.7 813.9 197.4 814.4 204.6 815.0 230.7 815.6 274.9 816.2 301.0 816.7 326.7 817.3 354.3ZM821.1 602.0 821.7 629.6 822.2 655.5 822.8 682.0 823.4 725.6 824.0 751.5 824.5 758.8 825.1 760.5 825.6 758.8 826.0 751.6 826.5 725.7 826.9 682.1 827.4 655.7 827.8 629.9 828.3 602.3ZM831.2 354.9 831.7 327.3 832.1 301.5 832.6 274.8 833.0 231.5 833.5 205.8 833.9 198.5 834.4 196.8 835.0 198.5 835.6 205.8 836.1 231.4 836.7 274.6 837.3 301.2 837.9 326.9 838.4 354.5ZM842.3 601.3 842.8 628.9 843.4 654.6 844.0 681.3 844.6 724.4 845.1 750.0 845.7 757.3 846.3 759.0 846.7 757.3 847.2 750.0 847.6 724.3 848.0 681.1 848.5 654.4 848.9 628.6 849.3 601.0ZM852.2 353.7 852.6 326.1 853.0 300.3 853.5 273.7 853.9 230.4 854.3 204.7 854.8 197.4 855.2 195.7 855.8 197.4 856.4 204.7 856.9 230.4 857.5 273.6 858.1 300.2 858.7 326.0 859.3 353.6ZM863.1 600.7 863.7 628.5 864.3 654.3 864.9 681.3 865.5 724.0 866.0 749.5 866.6 756.8 867.2 758.5 867.6 756.8 868.1 749.5 868.5 724.3 868.9 681.9 869.4 655.1 869.8 629.5 870.2 602.0ZM873.1 356.6 873.5 329.0 873.9 303.3 874.4 276.3 874.8 234.2 875.2 209.1 875.7 201.8 876.1 200.1 876.7 201.8 877.3 209.1 877.9 234.3 878.5 276.5 879.1 303.6 879.7 329.3 880.3 357.0ZM884.2 603.0 884.8 630.5 885.4 656.2 886.0 682.9 886.6 725.6 887.2 751.0 887.8 758.3 888.4 760.0 888.8 758.3 889.3 751.0 889.7 725.4 890.1 682.5 890.6 655.6 891.0 629.8 891.4 602.1ZM894.3 354.8 894.7 327.1 895.1 301.4 895.6 274.7 896.0 231.5 896.4 205.8 896.9 198.5 897.3 196.8 897.9 198.5 898.5 205.8 899.1 231.4 899.7 274.5 900.3 301.2 900.9 326.9 901.5 354.5ZM905.5 601.3 906.2 629.0 906.8 654.8 907.4 681.6 908.0 724.5 908.6 750.0 909.2 757.3 909.8 759.0 910.2 757.3 910.6 750.0 911.1 724.5 911.5 681.7 911.9 655.0 912.3 629.2 912.8 601.7ZM915.5 355.2 916.0 327.6 916.4 301.9 916.8 275.1 917.2 232.4 917.7 206.9 918.1 199.6 918.5 197.9 919.1 199.6 919.7 206.9 920.3 232.4 920.9 275.3 921.5 302.1 922.1 327.9 922.7 355.5ZM926.7 602.3 927.3 629.9 927.9 655.6 928.5 682.1 929.1 725.4 929.7 751.0 930.3 758.3 930.9 760.0 931.3 758.3 931.7 751.0 932.1 725.2 932.6 681.8 933.0 655.2 933.4 629.4 933.8 601.7ZM936.5 353.0 936.9 324.5 937.3 298.2 937.7 268.7 938.2 229.4 938.6 205.2 939.0 197.5 939.4 195.7 939.9 197.3 940.4 204.6 940.9 227.0 941.4 263.7 941.9 291.1 942.4 315.6 942.9 342.1ZM946.3 578.8 946.8 608.5 947.3 635.1 947.8 665.6 948.3 692.2 948.8 710.3 949.3 718.8 949.8 720.9 950.3 719.2 950.9 712.4 951.4 697.7 952.0 676.2 952.5 651.6 953.1 630.1 953.6 606.2ZM957.2 406.8 957.7 379.8 958.3 355.8 958.8 335.3 959.4 318.8 959.9 306.8 960.5 299.5 961.0 297.0 961.5 299.0 962.1 305.1 962.6 315.1 963.2 328.8 963.7 345.8 964.3 365.8 964.8 388.3ZM968.5 558.1 969.0 580.6 969.6 600.6 970.1 617.6 970.7 631.3 971.2 641.3 971.8 647.4 972.3 649.4 972.8 647.6 973.3 642.4 973.9 633.8 974.4 622.1 974.9 607.5 975.4 590.4 976.0 571.1ZM979.4 425.6 980.0 406.3 980.5 389.2 981.0 374.6 981.5 362.9 982.1 354.3 982.6 349.1 983.1 347.3 983.6 348.8 984.1 353.1 984.6 360.3 985.2 370.1 985.7 382.3 986.2 396.6 986.7 412.8ZM990.1 534.4 990.6 550.6 991.1 564.9 991.6 577.1 992.2 586.9 992.7 594.1 993.2 598.4 993.7 599.9 994.2 598.7 994.7 595.1 995.3 589.1 995.8 581.0 996.3 570.9 996.8 559.0 997.4 545.6ZM1000.8 444.8 1001.4 431.4 1001.9 419.5 1002.4 409.4 1002.9 401.3 1003.5 395.3 1004.0 391.7 1004.5 390.5 1005.0 391.5 1005.5 394.5 1006.0 399.5 1006.5 406.3 1007.0 414.7 1007.6 424.7 1008.1 435.8ZM1011.4 520.1 1011.9 531.2 1012.5 541.2 1013.0 549.6 1013.5 556.4 1014.0 561.4 1014.5 564.4 1015.0 565.4 1015.5 564.6 1016.0 562.1 1016.6 557.9 1017.1 552.3 1017.6 545.3 1018.1 537.1 1018.6 527.9ZM1022.1 458.0 1022.6 448.8 1023.1 440.6 1023.6 433.6 1024.1 428.0 1024.7 423.8 1025.2 421.3 1025.7 420.5 1026.2 421.2 1026.7 423.3 1027.2 426.7 1027.7 431.4 1028.2 437.2 1028.6 444.0 1029.1 451.7ZM1032.4 509.7 1032.9 517.4 1033.3 524.2 1033.8 530.0 1034.3 534.7 1034.8 538.1 1035.3 540.2 1035.8 540.9 1036.3 540.3 1036.8 538.6 1037.4 535.8 1037.9 532.0 1038.4 527.2 1038.9 521.6 1039.4 515.3ZM1042.9 467.6 1043.4 461.3 1043.9 455.7 1044.4 450.9 1044.9 447.1 1045.5 444.3 1046.0 442.6 1046.5 442.0 1047.0 442.5 1047.5 443.9 1048.0 446.2 1048.5 449.4 1049.0 453.4 1049.5 458.0 1050.0 463.2Z" fill="#4a7ab0" fill-opacity="0.3"/>
<path d="M344.2 447.3 344.6 443.5 345.0 440.3 345.5 437.6 345.9 435.4 346.3 433.9 346.7 432.9 347.1 432.6 347.5 433.0 347.9 434.2 348.2 436.3 348.6 439.0 349.0 442.6 349.4 446.8 349.7 451.6ZM354.6 534.1 354.9 538.9 355.3 543.1 355.7 546.7 356.1 549.4 356.4 551.5 356.8 552.7 357.2 553.1 357.6 552.6 358.0 551.1 358.3 548.5 358.7 545.0 359.1 540.6 359.5 535.3 359.9 529.3ZM364.7 425.8 365.1 419.8 365.5 414.5 365.9 410.1 366.3 406.6 366.6 404.0 367.0 402.5 367.4 402.0 367.8 402.6 368.2 404.5 368.6 407.6 369.0 411.9 369.4 417.3 369.8 423.7 370.2 431.1ZM375.5 557.5 375.9 564.9 376.3 571.3 376.7 576.7 377.1 581.0 377.5 584.1 377.9 586.0 378.3 586.6 378.7 585.8 379.1 583.6 379.4 579.9 379.8 574.8 380.2 568.3 380.6 560.5 381.0 551.7ZM385.9 400.0 386.3 391.2 386.7 383.4 387.1 376.9 387.5 371.8 387.8 368.1 388.2 365.9 388.6 365.1 389.0 366.0 389.4 368.6 389.8 372.9 390.2 378.9 390.6 386.4 391.0 395.4 391.4 405.8ZM396.7 582.3 397.1 592.7 397.5 601.7 397.9 609.2 398.3 615.2 398.7 619.5 399.1 622.1 399.5 623.0 399.9 622.0 400.3 618.9 400.7 613.9 401.1 606.9 401.4 598.1 401.8 587.6 402.2 575.5ZM407.3 369.4 407.7 357.3 408.1 346.8 408.4 338.0 408.8 331.0 409.2 326.0 409.6 322.9 410.0 321.9 410.4 323.1 410.8 326.6 411.2 332.4 411.6 340.3 412.0 350.4 412.4 362.5 412.8 376.3ZM417.9 612.3 418.3 626.1 418.7 638.2 419.1 648.3 419.5 656.2 419.9 662.0 420.3 665.5 420.7 666.7 421.1 665.4 421.5 661.4 421.9 654.9 422.3 646.0 422.7 634.6 423.1 621.1 423.5 605.5ZM428.6 341.5 429.0 325.6 429.4 311.6 429.8 299.9 430.2 290.7 430.6 284.1 431.0 280.3 431.4 279.0 431.8 280.4 432.2 284.7 432.6 292.0 433.0 302.3 433.4 315.4 433.8 331.0 434.2 348.7ZM439.2 636.2 439.6 654.1 440.0 672.2 440.4 687.3 440.8 699.0 441.2 706.6 441.6 710.3 442.0 711.5 442.4 710.2 442.8 706.2 443.2 697.9 443.6 685.2 444.0 668.8 444.4 649.0 444.8 629.6ZM449.9 328.2 450.3 311.2 450.7 287.9 451.1 268.7 451.5 254.1 451.9 245.7 452.3 242.3 452.7 241.2 453.1 242.4 453.5 246.1 453.9 255.2 454.3 271.2 454.7 292.2 455.1 317.6 455.5 336.1ZM460.8 654.4 461.2 671.5 461.6 696.9 462.0 722.5 462.4 741.4 462.8 750.6 463.2 753.3 463.6 754.3 464.0 753.2 464.4 750.2 464.7 740.3 465.1 719.8 465.5 692.1 465.9 664.6 466.2 646.1ZM471.1 310.6 471.4 293.0 471.8 268.4 472.2 235.3 472.6 211.8 472.9 201.8 473.3 199.6 473.7 198.6 474.1 199.7 474.5 202.0 475.0 212.3 475.4 236.9 475.8 271.4 476.2 297.2 476.6 315.6ZM482.1 657.1 482.5 675.0 482.9 692.1 483.3 736.2 483.7 766.2 484.2 775.8 484.6 777.8 485.0 778.8 485.4 777.7 485.7 775.5 486.1 765.0 486.5 732.1 486.8 683.6 487.2 664.8 487.5 645.2ZM492.3 279.8 492.6 260.6 493.0 243.1 493.3 195.7 493.7 154.4 494.1 144.9 494.4 142.9 494.8 141.9 495.2 143.0 495.6 145.0 496.0 154.8 496.4 197.3 496.8 246.1 497.1 264.2 497.5 283.9ZM502.6 653.8 503.0 673.5 503.4 691.0 503.7 737.1 504.1 785.7 504.5 795.0 504.9 796.9 505.3 797.9 505.7 796.8 506.1 794.9 506.5 785.4 506.9 735.5 507.3 688.1 507.7 670.1 508.1 649.9ZM513.2 274.1 513.6 254.1 514.0 236.6 514.4 194.7 514.8 135.6 515.2 126.9 515.6 125.0 516.0 124.0 516.4 125.1 516.8 127.0 517.1 136.0 517.5 197.0 517.9 240.2 518.3 258.3 518.7 279.0ZM523.6 662.7 524.0 683.2 524.4 700.8 524.8 734.6 525.2 808.6 525.5 816.9 525.9 818.6 526.3 819.7 526.7 818.6 527.1 816.8 527.5 808.4 527.9 732.5 528.4 697.9 528.8 679.9 529.2 658.8ZM534.5 269.1 534.9 248.2 535.3 230.4 535.8 205.1 536.2 117.7 536.6 109.8 537.0 108.1 537.4 107.0 537.8 108.1 538.2 109.9 538.5 117.8 538.9 206.2 539.3 231.7 539.7 249.7 540.0 270.9ZM544.9 663.1 545.2 684.3 545.6 702.1 546.0 724.4 546.4 816.7 546.7 824.5 547.1 826.2 547.5 827.3 547.9 826.2 548.3 824.4 548.8 816.7 549.2 723.8 549.6 701.3 550.0 683.4 550.4 662.1ZM555.9 267.8 556.3 246.5 556.7 228.6 557.1 206.1 557.5 113.2 558.0 105.5 558.4 103.7 558.8 102.6 559.2 103.7 559.5 105.5 559.9 113.3 560.3 206.3 560.6 228.8 561.0 246.7 561.3 268.1ZM566.1 662.9 566.4 684.3 566.8 702.2 567.1 724.7 567.5 817.7 567.9 825.5 568.2 827.3 568.6 828.4 569.0 827.3 569.4 825.6 569.9 817.8 570.3 725.7 570.7 703.4 571.1 685.6 571.5 664.4ZM577.0 272.9 577.4 251.8 577.8 233.9 578.2 209.3 578.6 119.9 579.1 112.1 579.5 110.3 579.9 109.2 580.3 110.3 580.7 112.0 581.0 119.9 581.4 208.9 581.8 233.3 582.2 251.1 582.5 272.2ZM587.4 662.5 587.7 683.6 588.1 701.5 588.5 729.0 588.9 814.2 589.2 822.2 589.6 824.0 590.0 825.1 590.4 824.0 590.8 822.3 591.2 814.3 591.6 729.6 592.1 702.1 592.5 684.4 592.9 663.4ZM598.2 274.2 598.6 253.2 599.0 235.3 599.5 203.5 599.9 124.2 600.3 116.0 600.7 114.2 601.1 113.1 601.5 114.2 601.9 116.0 602.2 124.1 602.6 202.5 603.0 234.0 603.4 251.7 603.7 272.5ZM608.6 658.7 608.9 679.5 609.3 697.4 609.7 732.8 610.1 806.2 610.4 814.6 610.8 816.4 611.2 817.5 611.6 816.4 612.0 814.6 612.4 806.3 612.8 733.3 613.3 698.2 613.7 680.4 614.1 659.7ZM619.4 274.7 619.8 254.0 620.2 236.0 620.7 197.7 621.1 129.0 621.5 120.4 621.9 118.6 622.3 117.5 622.7 118.6 623.1 120.4 623.4 128.9 623.8 196.9 624.2 234.9 624.6 252.6 625.0 273.1ZM629.9 655.2 630.3 675.7 630.7 693.5 631.1 732.7 631.5 799.0 631.8 807.6 632.2 809.4 632.6 810.5 633.0 809.4 633.4 807.6 633.8 798.9 634.2 732.5 634.7 693.2 635.1 675.3 635.5 654.8ZM640.8 271.2 641.2 250.7 641.6 232.7 642.1 192.5 642.5 127.4 642.9 118.6 643.3 116.8 643.7 115.7 644.1 116.8 644.4 118.6 644.8 127.3 645.2 191.9 645.6 231.8 645.9 249.5 646.3 270.0ZM651.1 651.5 651.5 671.9 651.8 689.9 652.2 733.4 652.6 792.8 653.0 801.8 653.3 803.7 653.7 804.8 654.1 803.8 654.5 801.9 654.9 793.0 655.3 734.6 655.8 691.9 656.2 674.3 656.6 654.1ZM661.9 277.3 662.3 257.1 662.7 239.2 663.2 193.6 663.6 139.9 664.0 130.7 664.4 128.8 664.8 127.7 665.2 128.7 665.5 130.6 665.9 139.8 666.3 192.9 666.6 238.0 667.0 255.7 667.4 275.7ZM672.1 650.3 672.5 670.3 672.9 688.2 673.2 735.2 673.6 785.0 674.0 794.4 674.3 796.3 674.7 797.4 675.1 796.4 675.5 794.4 675.9 785.2 676.3 736.0 676.8 689.7 677.2 672.0 677.6 652.2ZM682.9 280.6 683.3 260.7 683.7 242.8 684.2 194.8 684.6 149.0 685.0 139.4 685.4 137.5 685.8 136.4 686.2 137.4 686.6 139.4 686.9 148.8 687.3 193.9 687.7 241.2 688.1 258.9 688.5 278.4ZM693.4 646.5 693.8 666.1 694.2 684.0 694.6 732.5 695.0 774.6 695.3 784.4 695.7 786.3 696.1 787.4 696.5 786.4 696.9 784.4 697.4 774.8 697.8 733.3 698.2 685.5 698.6 667.9 699.0 648.5ZM704.5 283.8 704.9 264.3 705.3 246.4 705.7 198.0 706.1 158.8 706.6 149.0 707.0 147.0 707.4 145.9 707.8 146.9 708.2 148.9 708.5 158.7 708.9 197.3 709.3 245.1 709.7 262.7 710.1 281.9ZM715.0 643.7 715.4 663.0 715.8 680.9 716.2 729.1 716.6 765.6 716.9 775.6 717.3 777.6 717.7 778.7 718.1 777.7 718.5 775.6 718.9 765.8 719.3 729.9 719.7 682.3 720.1 664.7 720.5 645.7ZM725.8 287.4 726.2 268.4 726.6 250.5 727.0 202.8 727.4 168.4 727.8 158.4 728.2 156.4 728.6 155.3 729.0 156.3 729.4 158.4 729.9 168.3 730.3 202.4 730.7 249.7 731.1 267.3 731.5 286.2ZM737.0 643.6 737.4 662.6 737.8 681.4 738.2 727.9 738.6 759.4 739.1 769.7 739.5 771.8 739.9 772.9 740.3 771.9 740.6 769.8 741.0 759.9 741.4 729.5 741.7 684.7 742.1 666.6 742.5 648.2ZM747.2 300.3 747.6 281.8 748.0 259.9 748.3 219.0 748.7 190.6 749.1 180.4 749.4 178.2 749.8 177.2 750.2 178.2 750.6 180.4 751.0 190.5 751.4 218.5 751.8 259.1 752.2 280.7 752.6 299.1ZM757.7 646.0 758.1 664.5 758.5 687.8 758.9 726.4 759.3 753.4 759.7 763.6 760.1 765.8 760.5 766.9 760.9 765.9 761.3 763.7 761.6 753.6 762.0 727.1 762.4 689.2 762.8 666.2 763.2 648.1ZM768.0 305.5 768.4 287.3 768.8 263.3 769.2 226.6 769.6 200.8 769.9 190.7 770.3 188.4 770.7 187.4 771.1 188.4 771.6 190.6 772.0 200.8 772.5 226.6 772.9 263.1 773.3 287.1 773.8 305.2ZM779.4 647.8 779.9 666.0 780.3 690.1 780.7 726.4 781.2 752.1 781.6 762.2 782.1 764.5 782.5 765.5 782.8 764.5 783.2 762.2 783.5 752.1 783.9 726.5 784.2 690.1 784.6 666.0 784.9 647.8ZM789.5 305.3 789.8 287.1 790.2 262.8 790.5 226.7 790.9 201.2 791.2 191.1 791.6 188.8 791.9 187.8 792.3 188.8 792.8 191.1 793.2 201.2 793.7 226.6 794.1 262.5 794.6 286.7 795.0 304.9ZM800.8 646.8 801.2 665.1 801.7 690.1 802.1 725.0 802.6 749.8 803.0 760.0 803.5 762.2 803.9 763.3 804.2 762.3 804.6 760.0 804.9 750.0 805.3 725.5 805.6 691.1 806.0 666.4 806.3 648.4ZM810.9 309.9 811.2 291.9 811.6 266.5 811.9 233.1 812.3 209.2 812.6 199.0 813.0 196.7 813.3 195.7 813.7 196.7 814.2 199.0 814.6 209.1 815.1 232.9 815.5 266.1 815.9 291.4 816.4 309.4ZM822.0 647.1 822.5 665.1 822.9 690.6 823.3 723.5 823.8 747.0 824.2 757.2 824.7 759.5 825.1 760.5 825.4 759.5 825.8 757.2 826.1 747.1 826.5 723.5 826.8 690.7 827.2 665.3 827.5 647.3ZM832.0 309.8 832.3 291.9 832.7 266.3 833.0 233.7 833.4 210.3 833.7 200.1 834.1 197.8 834.4 196.8 834.8 197.8 835.3 200.1 835.7 210.2 836.2 233.6 836.6 266.1 837.1 291.6 837.5 309.5ZM843.2 646.3 843.6 664.2 844.1 689.8 844.5 722.2 845.0 745.6 845.4 755.7 845.9 758.0 846.3 759.0 846.6 758.0 847.0 755.7 847.3 745.5 847.6 722.2 848.0 689.6 848.3 664.0 848.6 646.1ZM852.9 308.7 853.2 290.7 853.5 265.1 853.9 232.6 854.2 209.2 854.5 199.0 854.9 196.7 855.2 195.7 855.6 196.7 856.1 199.0 856.5 209.2 857.0 232.5 857.4 265.1 857.9 290.6 858.3 308.6ZM864.1 645.9 864.5 663.9 865.0 689.7 865.4 721.9 865.9 745.0 866.3 755.2 866.8 757.4 867.2 758.5 867.5 757.5 867.9 755.2 868.2 745.1 868.5 722.2 868.9 690.3 869.2 664.6 869.5 646.8ZM873.8 311.6 874.1 293.8 874.4 268.0 874.8 236.3 875.1 213.5 875.4 203.4 875.8 201.1 876.1 200.1 876.6 201.1 877.0 203.4 877.5 213.6 877.9 236.4 878.4 268.1 878.8 294.0 879.3 311.9ZM885.2 647.9 885.7 665.8 886.1 691.4 886.6 723.5 887.0 746.6 887.5 756.7 887.9 759.0 888.4 760.0 888.7 759.0 889.1 756.7 889.4 746.5 889.7 723.3 890.1 691.0 890.4 665.2 890.7 647.2ZM895.0 309.7 895.3 291.8 895.6 266.1 896.0 233.6 896.3 210.3 896.6 200.1 897.0 197.8 897.3 196.8 897.8 197.8 898.2 200.1 898.7 210.2 899.2 233.6 899.6 266.0 900.1 291.6 900.5 309.5ZM906.5 646.4 907.0 664.4 907.5 690.1 907.9 722.3 908.4 745.5 908.9 755.7 909.3 758.0 909.8 759.0 910.1 758.0 910.4 755.7 910.8 745.6 911.1 722.4 911.4 690.2 911.7 664.5 912.1 646.6ZM916.2 310.3 916.6 292.3 916.9 266.7 917.2 234.5 917.5 211.4 917.9 201.2 918.2 198.9 918.5 197.9 919.0 198.9 919.4 201.2 919.9 211.4 920.3 234.6 920.8 266.8 921.3 292.5 921.7 310.5ZM927.7 647.2 928.1 665.2 928.6 690.7 929.1 723.2 929.5 746.6 930.0 756.7 930.4 759.0 930.9 760.0 931.2 759.0 931.5 756.7 931.8 746.5 932.2 723.1 932.5 690.4 932.8 664.8 933.1 646.8ZM937.2 306.8 937.5 288.3 937.8 261.0 938.1 231.3 938.5 209.7 938.8 199.5 939.1 196.8 939.4 195.7 939.8 196.7 940.2 199.2 940.6 208.7 940.9 228.9 941.3 256.4 941.7 281.9 942.1 299.1ZM947.1 626.0 947.5 646.6 947.9 670.8 948.3 690.8 948.6 706.2 949.0 715.5 949.4 719.6 949.8 720.9 950.2 719.9 950.6 716.5 951.0 709.0 951.5 696.6 951.9 680.5 952.3 660.9 952.7 644.3ZM958.1 363.9 958.5 346.9 958.9 332.1 959.3 319.7 959.8 309.9 960.2 302.7 960.6 298.4 961.0 297.0 961.4 298.2 961.8 301.8 962.3 307.7 962.7 315.8 963.1 326.1 963.5 338.4 963.9 352.6ZM969.4 593.8 969.8 608.0 970.2 620.3 970.6 630.6 971.0 638.7 971.5 644.6 971.9 648.2 972.3 649.4 972.7 648.4 973.1 645.3 973.5 640.2 973.9 633.2 974.3 624.4 974.7 613.9 975.1 601.8ZM980.3 394.9 980.7 382.8 981.1 372.3 981.5 363.5 981.9 356.5 982.3 351.4 982.7 348.3 983.1 347.3 983.5 348.2 983.9 350.7 984.3 355.0 984.7 360.8 985.1 368.2 985.5 377.0 985.9 387.1ZM990.9 560.1 991.3 570.2 991.7 579.0 992.1 586.4 992.5 592.2 992.9 596.5 993.3 599.0 993.7 599.9 994.1 599.2 994.5 597.1 994.9 593.6 995.3 588.7 995.7 582.6 996.1 575.3 996.5 566.9ZM1001.7 423.5 1002.1 415.1 1002.5 407.8 1002.9 401.7 1003.3 396.8 1003.7 393.3 1004.1 391.2 1004.5 390.5 1004.9 391.1 1005.3 392.9 1005.7 395.8 1006.1 399.9 1006.5 405.0 1006.8 411.1 1007.2 418.1ZM1012.3 537.8 1012.7 544.8 1013.0 550.9 1013.4 556.0 1013.8 560.1 1014.2 563.0 1014.6 564.8 1015.0 565.4 1015.4 564.9 1015.8 563.4 1016.2 561.0 1016.6 557.7 1017.0 553.4 1017.4 548.4 1017.8 542.5ZM1022.9 443.4 1023.3 437.5 1023.7 432.5 1024.1 428.2 1024.5 424.9 1024.9 422.5 1025.3 421.0 1025.7 420.5 1026.1 420.9 1026.5 422.1 1026.8 424.2 1027.2 426.9 1027.6 430.5 1028.0 434.7 1028.3 439.5ZM1033.2 521.9 1033.5 526.7 1033.9 530.9 1034.3 534.5 1034.7 537.2 1035.0 539.3 1035.4 540.5 1035.8 540.9 1036.2 540.6 1036.6 539.6 1037.0 537.9 1037.4 535.6 1037.8 532.7 1038.2 529.3 1038.6 525.3ZM1043.7 457.6 1044.1 453.6 1044.5 450.2 1044.9 447.3 1045.3 445.0 1045.7 443.3 1046.1 442.3 1046.5 442.0 1046.9 442.3 1047.3 443.1 1047.7 444.5 1048.0 446.4 1048.4 448.8 1048.8 451.6 1049.2 454.9Z" fill="#4a7ab0" fill-opacity="0.4"/>
</g>
<g filter="url(#bt)">
<rect x="259.5" y="68.5" width="1068" height="796.5" fill="none" stroke="#000" stroke-width="2.4"/>
<line x1="319.5" y1="865" x2="319.5" y2="876.8" stroke="#000" stroke-width="2.4"/><text x="317.9" y="910" font-size="29.8" text-anchor="middle">200</text>
<line x1="481.4" y1="865" x2="481.4" y2="876.8" stroke="#000" stroke-width="2.4"/><text x="479.8" y="910" font-size="29.8" text-anchor="middle">250</text>
<line x1="643.3" y1="865" x2="643.3" y2="876.8" stroke="#000" stroke-width="2.4"/><text x="641.7" y="910" font-size="29.8" text-anchor="middle">300</text>
<line x1="805.2" y1="865" x2="805.2" y2="876.8" stroke="#000" stroke-width="2.4"/><text x="803.6" y="910" font-size="29.8" text-anchor="middle">350</text>
<line x1="967.1" y1="865" x2="967.1" y2="876.8" stroke="#000" stroke-width="2.4"/><text x="965.5" y="910" font-size="29.8" text-anchor="middle">400</text>
<line x1="1129.0" y1="865" x2="1129.0" y2="876.8" stroke="#000" stroke-width="2.4"/><text x="1127.4" y="910" font-size="29.8" text-anchor="middle">450</text>
<line x1="1290.9" y1="865" x2="1290.9" y2="876.8" stroke="#000" stroke-width="2.4"/><text x="1289.3" y="910" font-size="29.8" text-anchor="middle">500</text>
<line x1="247.5" y1="140.2" x2="259.5" y2="140.2" stroke="#000" stroke-width="2.4"/><text x="237" y="151.3" font-size="29.8" text-anchor="end">1.0</text>
<line x1="247.5" y1="313.8" x2="259.5" y2="313.8" stroke="#000" stroke-width="2.4"/><text x="237" y="324.9" font-size="29.8" text-anchor="end">0.5</text>
<line x1="247.5" y1="487.4" x2="259.5" y2="487.4" stroke="#000" stroke-width="2.4"/><text x="237" y="498.5" font-size="29.8" text-anchor="end">0.0</text>
<line x1="247.5" y1="660.5" x2="259.5" y2="660.5" stroke="#000" stroke-width="2.4"/><text x="237" y="671.6" font-size="29.8" text-anchor="end">−0.5</text>
<line x1="247.5" y1="834.6" x2="259.5" y2="834.6" stroke="#000" stroke-width="2.4"/><text x="237" y="845.7" font-size="29.8" text-anchor="end">−1.0</text>
<text transform="translate(792.9 49.9) scale(0.926 1)" font-size="38.9" text-anchor="middle">long_vib</text>
<text x="792.5" y="952" font-size="29.8" text-anchor="middle">Time (msec.)</text>
<text transform="translate(144.3 469.5) rotate(-90)" font-size="29.8" text-anchor="middle">Accel (gee)</text>
<rect x="945.2" y="273.4" width="319.5" height="49.5" fill="#fff" stroke="#000" stroke-width="2.4"/>
<text y="305" font-size="29.8" xml:space="preserve"><tspan x="950.3">max amp:   </tspan><tspan x="1131.6">1.10594</tspan></text>
</g>
<line x1="307.4" y1="185.5" x2="307.4" y2="1049.6" stroke="#c8402c" stroke-width="2.9"/>
<line x1="792.1" y1="179" x2="792.1" y2="1049.6" stroke="#c8402c" stroke-width="2.9"/>
<line x1="944" y1="179" x2="944" y2="1049.6" stroke="#c8402c" stroke-width="2.9"/>
<line x1="322.5" y1="1043" x2="777.1" y2="1043" stroke="#000" stroke-width="2.5"/><polygon points="309.9,1043 323.5,1036 323.5,1050" fill="#000"/><polygon points="789.7,1043 776.1,1036 776.1,1050" fill="#000"/>
<line x1="807.2" y1="1043" x2="926.0" y2="1043" stroke="#000" stroke-width="2.5"/><polygon points="794.6,1043 808.2,1036 808.2,1050" fill="#000"/><polygon points="938.6,1043 925.0,1036 925.0,1050" fill="#000"/>
<text class="h" x="549.8" y="1030.7" font-size="26.6" letter-spacing="0.12" text-anchor="middle">Ramp up / overshoot</text>
<text class="h" x="866.8" y="999.3" font-size="26.6" letter-spacing="0.12" text-anchor="middle">Steady</text>
<text class="h" x="866.5" y="1029.8" font-size="26.6" letter-spacing="0.12" text-anchor="middle">State</text>
</svg></body></html>
